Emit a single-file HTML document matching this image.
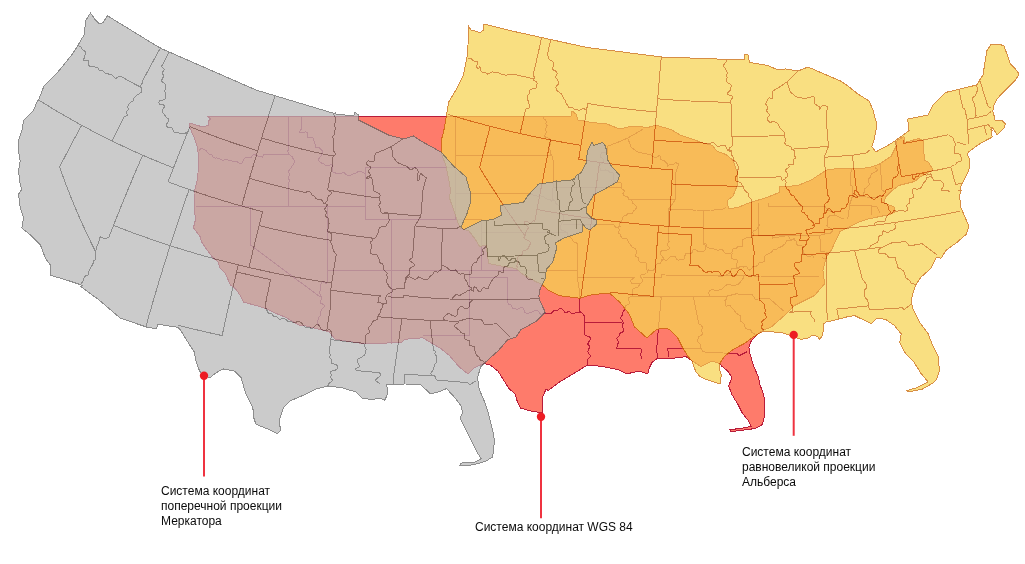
<!DOCTYPE html>
<html><head><meta charset="utf-8">
<style>
html,body{margin:0;padding:0;background:#fff;}
body{width:1025px;height:564px;overflow:hidden;position:relative;font-family:"Liberation Sans",sans-serif;}
svg{position:absolute;left:0;top:0;}
.t{position:absolute;will-change:transform;font-size:12px;line-height:15px;color:#0a0a0a;white-space:nowrap;}
</style></head><body>
<svg width="1025" height="564" viewBox="0 0 1025 564">

<path d="M207.3 116.2 L446.0 116.0 L571.0 116.0 L572.0 111.0 L576.0 114.0 L578.0 120.0 L592.0 122.5 L607.0 124.0 L619.5 129.0 L632.0 126.0 L648.0 127.5 L656.0 125.0 L672.0 130.0 L680.0 135.0 L693.8 139.6 L703.0 143.0 L712.3 145.3 L716.9 151.1 L726.1 154.6 L733.0 160.3 L737.6 173.0 L737.6 184.5 L733.0 196.0 L727.2 200.6 L728.4 208.7 L737.6 207.6 L749.1 202.9 L767.6 197.2 L779.1 192.6 L779.1 186.8 L797.5 185.7 L811.3 179.9 L827.5 169.5 L841.3 168.4 L860.0 168.9 L871.7 166.9 L879.5 164.0 L891.2 156.2 L896.1 146.4 L897.0 140.6 L903.9 136.7 L904.8 142.5 L918.5 138.6 L923.4 140.6 L924.3 160.1 L928.2 162.0 L933.1 169.8 L926.3 173.7 L920.4 176.7 L914.6 181.5 L899.0 185.4 L891.2 191.3 L885.3 197.1 L884.4 203.0 L894.1 206.9 L895.1 211.7 L889.2 214.7 L879.5 216.6 L869.7 218.6 L860.0 221.5 L840.0 231.6 L831.4 250.0 L826.3 256.7 L822.9 270.2 L824.6 283.7 L814.5 295.5 L794.3 305.6 L789.3 310.6 L784.2 315.7 L770.7 327.5 L763.0 330.0 L756.8 335.0 L751.1 341.3 L748.9 347.7 L750.0 354.0 L753.2 364.7 L758.5 377.4 L759.6 383.8 L762.8 392.3 L764.9 400.9 L764.9 411.5 L763.8 420.0 L761.7 425.3 L755.3 428.5 L742.6 430.2 L730.9 431.7 L729.8 429.6 L740.4 428.5 L751.1 426.4 L747.9 420.0 L742.6 413.6 L738.3 405.1 L731.9 394.5 L728.7 386.0 L731.9 377.4 L727.7 371.1 L721.3 365.7 L719.6 363.5 L712.2 361.0 L701.0 366.6 L692.3 361.0 L686.1 356.7 L674.9 358.0 L656.8 358.9 L652.2 362.0 L649.2 368.0 L647.7 374.0 L638.7 371.0 L626.6 374.0 L617.6 369.5 L602.5 366.5 L587.4 365.0 L575.4 372.5 L560.3 381.5 L548.2 390.6 L546.1 389.0 L542.1 398.6 L542.9 412.9 L531.8 411.3 L520.6 408.1 L517.4 401.8 L515.0 393.8 L509.4 389.0 L503.1 379.4 L498.3 371.5 L490.3 365.1 L483.9 363.5 L473.9 368.0 L467.9 374.0 L458.8 366.5 L449.8 355.9 L440.7 348.4 L422.7 337.8 L404.6 339.3 L401.5 342.4 L365.4 343.9 L335.2 339.3 L329.2 331.8 L317.1 328.8 L305.1 325.8 L300.0 325.8 L285.0 317.0 L274.4 312.8 L265.9 308.5 L255.2 305.3 L243.5 302.1 L240.3 295.7 L236.1 289.4 L230.7 285.1 L227.6 278.7 L225.4 273.4 L220.1 268.1 L218.0 261.7 L212.7 257.4 L206.3 248.9 L202.0 242.6 L199.9 236.2 L193.5 227.7 L195.6 219.1 L194.6 212.8 L194.0 193.5 L197.5 178.5 L199.0 161.0 L197.5 147.9 L194.8 139.0 L191.3 131.0 L189.1 125.7 L189.5 123.1 L200.2 126.2 L205.5 126.2 L209.0 124.8 L208.1 121.3 L210.8 119.1 Z" fill="#fe7b6b"/>
<g fill="none" stroke="#b81c3a" stroke-width="1" shape-rendering="crispEdges" stroke-linejoin="round"><path d="M198.8 151.6 L200.3 148.9 L201.6 148.7 L202.8 148.8 L203.9 149.3 L205.1 149.9 L206.2 150.9 L207.3 152.2 L208.3 153.6 L209.3 154.5 L210.5 154.8 L211.3 154.6 L211.8 154.9 L212.3 155.8 L213.0 156.9 L214.2 157.6 L215.5 158.1 L216.1 157.8 L216.9 158.0 L218.1 158.3 L219.2 158.6 L220.3 159.1 L221.5 159.7 L222.8 160.2 L224.0 160.1 L225.2 159.6 L226.3 159.3 L227.6 159.7 L228.9 160.3 L230.1 160.4 L231.2 160.5 L232.2 161.2 L233.3 161.7 L234.6 161.4 L235.8 161.0 L237.0 161.5 L238.4 162.8 L240.1 163.8 L241.5 163.6 L242.5 162.1 L243.4 160.0 L244.4 158.4 L245.5 157.8 L246.7 157.7 L247.9 157.6 L249.2 157.7 L250.4 157.7 L251.5 156.9 L252.4 155.6 L253.4 154.7 L254.7 154.7 L256.1 155.2 L257.5 155.9 L258.7 156.1 L260.0 156.2 L261.2 156.7 L262.6 157.4 L263.4 154.8"/><path d="M263.4 154.8 L266.8 154.8 L270.1 154.8 L273.4 154.8 L276.7 154.8 L280.0 154.8 L283.3 154.8 L286.7 154.8 L290.0 154.8"/><path d="M290.0 154.8 L288.4 153.8 L288.1 152.4 L287.8 151.0 L288.4 149.4"/><path d="M288.4 149.4 L288.4 146.1 L288.4 142.8 L288.4 139.4 L288.4 136.1 L288.4 132.8 L288.4 129.5 L288.4 126.1 L288.4 122.8 L288.4 119.5 L288.4 116.2"/><path d="M290.0 154.8 L290.9 155.7 L291.8 156.4 L292.7 157.4 L293.2 158.8 L292.9 159.2 L292.8 158.3 L293.7 159.7 L294.4 161.3 L294.2 162.6 L293.6 163.7 L293.2 164.8 L292.5 165.8 L291.7 166.6 L291.1 167.5 L290.5 168.6 L289.8 169.6 L289.0 170.4 L288.8 171.7 L289.0 173.4 L289.2 174.9 L289.2 175.8 L289.1 175.3 L289.0 175.7 L288.9 177.2 L288.8 178.7 L289.1 179.9 L289.6 180.9 L289.1 182.1 L288.6 183.2"/><path d="M288.6 183.2 L288.6 186.5 L288.6 189.8 L288.6 193.1 L288.6 196.4 L288.6 199.7 L288.6 203.0 L288.6 206.3"/><path d="M196.1 206.3 L199.5 206.3 L202.9 206.3 L206.2 206.3 L209.6 206.3 L213.0 206.3 L216.4 206.3 L219.8 206.3 L223.2 206.3 L226.6 206.3 L230.0 206.3 L233.4 206.3 L236.7 206.3 L240.1 206.3 L243.5 206.3 L246.9 206.3 L250.3 206.3 L253.8 206.3 L257.3 206.3 L260.7 206.3 L264.2 206.3 L267.7 206.3 L271.2 206.3 L274.6 206.3 L278.1 206.3 L281.6 206.3 L285.1 206.3 L288.6 206.3 L292.1 206.3 L295.6 206.3 L299.1 206.3 L302.6 206.3 L306.1 206.3 L309.6 206.3 L313.1 206.3 L316.6 206.3 L320.1 206.3 L323.6 206.3 L327.1 206.3 L330.6 206.3 L334.1 206.3 L337.6 206.3 L341.1 206.3 L344.6 206.3 L348.1 206.3 L351.6 206.3 L355.1 206.3 L358.6 206.3 L362.1 206.3 L365.6 206.3"/><path d="M250.3 206.3 L250.3 209.6 L250.3 212.8 L250.3 216.0 L250.3 219.2 L250.3 222.4 L250.3 225.7 L250.3 228.9 L250.3 232.1 L250.3 235.3 L250.3 238.5 L250.3 241.8 L250.3 245.0 L253.6 247.4 L256.9 249.9 L260.2 252.3 L263.5 254.8 L266.8 257.2 L270.1 259.7 L273.4 262.2 L276.6 264.6 L279.9 267.1 L283.2 269.5 L286.5 272.0 L289.8 274.4 L293.1 276.9 L296.4 279.3 L299.7 281.8 L303.0 284.2 L306.3 286.7 L309.6 289.1 L312.9 291.6 L316.2 294.0 L319.5 296.5"/><path d="M319.5 296.5 L321.7 296.8 L321.8 298.2 L321.2 299.7 L320.5 301.5 L320.2 302.8 L321.4 303.4 L323.4 304.5 L324.5 305.9 L323.8 307.1 L322.7 308.3 L321.8 309.4 L321.2 310.5 L320.7 311.6 L320.3 312.8 L320.4 314.1 L320.2 315.4 L319.5 316.4 L318.8 317.3 L318.7 318.5 L318.2 319.7 L317.4 320.9 L317.2 322.2 L317.8 323.4 L318.7 324.6 L318.3 325.9"/><path d="M319.5 296.5 L320.7 295.2 L320.1 294.0 L319.6 292.8 L319.6 291.6 L320.2 290.3 L320.7 288.9 L320.6 287.6 L320.2 286.3 L320.2 285.1 L320.6 284.4 L320.3 285.7 L320.4 285.3 L321.2 283.6 L322.1 282.0 L323.3 281.9 L324.6 282.9 L325.8 284.0 L327.1 282.3"/><path d="M327.1 282.3 L327.1 278.5 L327.1 274.6 L327.1 270.7 L327.1 267.5 L327.1 264.3 L327.1 261.1 L327.1 257.9 L327.1 254.6 L327.1 251.4 L327.1 248.2 L327.1 245.0 L327.1 241.8 L327.1 238.5 L327.1 235.3 L327.1 232.1 L327.1 228.9 L327.1 225.7 L327.1 222.4 L327.1 219.2 L327.1 216.0 L327.1 212.8 L327.1 209.6 L327.1 206.3"/><path d="M365.6 206.3 L365.6 203.1 L365.6 199.9 L365.6 196.7 L365.6 193.5 L365.6 190.2 L365.6 187.0 L365.6 183.8 L365.6 180.6 L365.6 177.4 L365.6 174.1 L365.6 170.9 L365.6 167.7 L368.8 167.7 L372.0 167.7 L375.2 167.7 L378.5 167.7 L381.7 167.7 L384.9 167.7 L388.1 167.7 L391.3 167.7 L394.6 167.7 L397.8 167.7 L401.0 167.7 L404.2 167.7 L407.4 167.7 L410.7 167.7 L413.9 167.7 L417.1 167.7 L420.3 167.7 L423.5 167.7 L426.8 167.7 L430.0 167.7 L433.2 167.7 L436.4 167.7 L439.6 167.7 L442.9 167.7 L446.1 167.7 L449.3 167.7 L452.5 167.7 L455.7 167.7"/><path d="M365.6 174.1 L364.4 173.0 L363.3 172.8 L362.1 172.2 L360.9 171.6 L359.7 171.3 L358.5 171.5 L357.3 172.2 L355.9 173.1 L354.8 173.8 L353.6 173.9 L352.4 174.2 L351.3 174.9 L350.2 175.5 L348.9 175.6 L347.6 175.3 L346.4 174.8 L345.2 173.7 L344.1 172.7 L343.5 172.7 L342.4 173.0 L340.8 173.3 L339.3 173.6 L337.8 173.8 L336.5 173.5 L335.3 172.9 L334.0 172.5 L333.0 172.0 L332.4 170.7 L332.3 168.8 L332.3 166.7 L332.0 165.1 L330.8 164.7 L328.9 165.2 L327.0 165.7 L325.6 165.5 L324.8 164.6 L323.9 163.8 L322.9 163.4 L322.0 163.2 L321.1 162.8 L319.2 161.6 L318.7 159.1 L319.6 157.7 L320.5 156.7 L321.2 155.6 L321.7 154.5 L322.0 153.2 L322.3 151.9 L322.1 150.7 L321.3 149.6 L320.2 148.7 L319.1 147.8 L318.1 147.5 L317.0 147.5 L315.7 147.1 L315.0 146.0 L315.0 144.4 L314.7 142.8 L314.2 141.5 L313.8 140.1 L313.5 138.5 L312.8 137.3 L311.4 137.2 L309.5 137.8 L308.0 137.8 L307.2 136.7 L307.0 135.2 L307.1 133.6 L307.2 132.4 L305.8 131.9 L303.4 132.2 L300.9 132.5 L299.3 132.2 L301.2 129.3"/><path d="M301.2 129.3 L301.2 126.0 L301.2 122.7 L301.2 119.5 L301.2 116.2"/><path d="M455.7 116.2 L455.7 119.5 L455.7 122.7 L455.7 126.0 L455.7 129.3 L455.7 132.6 L455.7 135.9 L455.7 139.2 L455.7 142.5 L455.7 145.7 L455.7 149.0 L455.7 152.3 L455.7 155.6 L455.7 159.6 L455.7 163.7 L455.7 167.7 L455.7 170.9 L455.7 174.1 L455.7 177.4 L455.7 180.6 L455.7 183.8 L455.7 187.0 L455.7 190.2 L455.7 193.5 L455.7 196.7 L455.7 199.9 L455.7 203.1 L455.7 206.3 L455.7 209.6 L455.7 212.8 L455.7 216.0 L455.7 219.2"/><path d="M365.6 206.3 L365.6 209.6 L365.6 212.8 L365.6 216.0 L365.6 219.2 L368.8 219.2 L372.0 219.2 L375.2 219.2 L378.5 219.2 L381.7 219.2 L384.9 219.2 L388.1 219.2 L391.3 219.2 L394.6 219.2 L397.8 219.2 L401.0 219.2 L404.2 219.2 L407.4 219.2 L410.7 219.2 L413.9 219.2 L417.1 219.2 L420.3 219.2 L423.5 219.2 L426.8 219.2 L430.0 219.2 L433.2 219.2 L436.4 219.2 L439.6 219.2 L442.9 219.2 L446.1 219.2 L449.3 219.2 L452.5 219.2 L455.7 219.2 L459.0 219.2 L462.2 219.2 L465.4 219.2 L468.6 219.2 L471.8 219.2 L475.1 219.2 L478.3 219.2 L481.5 219.2 L481.5 222.4 L481.5 225.7 L481.5 228.9 L481.5 232.1 L481.5 235.3 L481.5 238.5 L481.5 241.8 L481.5 245.0 L481.5 248.2 L481.5 251.4 L481.5 254.6 L481.5 257.9 L481.5 261.1 L481.5 264.3 L481.5 267.5 L481.5 270.7"/><path d="M391.3 219.2 L391.3 222.4 L391.3 225.7 L391.3 228.9 L391.3 232.1 L391.3 235.3 L391.3 238.5 L391.3 241.8 L391.3 245.0 L391.3 248.2 L391.3 251.4 L391.3 254.6 L391.3 257.9 L391.3 261.1 L391.3 264.3 L391.3 267.5 L391.3 270.7 L391.3 274.1 L391.3 277.4 L391.3 280.7 L391.3 284.0 L391.3 287.3 L391.3 290.7 L391.3 294.0 L391.3 297.3 L391.3 300.6 L391.3 303.9 L391.3 307.3 L391.3 310.6 L391.3 313.9 L391.3 317.2 L391.3 320.5 L391.3 323.9 L391.3 327.2 L391.3 330.5 L391.3 333.8 L391.3 337.1 L391.3 340.5 L391.3 343.8"/><path d="M327.1 270.7 L330.4 270.7 L333.8 270.7 L337.2 270.7 L340.6 270.7 L344.0 270.7 L347.4 270.7 L350.7 270.7 L354.1 270.7 L357.5 270.7 L360.9 270.7 L364.3 270.7 L367.7 270.7 L371.0 270.7 L374.4 270.7 L377.8 270.7 L381.2 270.7 L384.6 270.7 L388.0 270.7 L391.3 270.7 L394.6 270.7 L397.8 270.7 L401.1 270.7 L404.3 270.7 L407.6 270.7 L410.8 270.7 L414.1 270.7 L417.3 270.7 L420.6 270.7 L423.8 270.7 L427.1 270.7 L430.3 270.7 L433.5 270.7 L436.8 270.7 L440.0 270.7 L443.3 270.7 L446.5 270.7 L449.8 270.7 L453.0 270.7 L456.3 270.7 L459.5 270.7 L462.8 270.7 L466.0 270.7 L469.3 270.7 L473.3 270.7 L477.4 270.7 L481.5 270.7 L484.8 270.7 L488.1 270.7 L491.4 270.7 L494.7 270.7 L498.0 270.7 L501.3 270.7 L504.6 270.7 L507.9 270.7 L511.2 270.7 L514.5 270.7 L517.8 270.7 L521.1 270.7 L524.4 270.7 L527.7 270.7 L531.0 270.7 L534.3 270.7 L537.6 270.7 L540.9 270.7 L544.2 270.7 L547.5 270.7 L550.8 270.7 L554.1 270.7 L557.4 270.7 L560.7 270.7 L564.0 270.7 L567.3 270.7 L570.6 270.7 L573.9 270.7 L577.2 270.7"/><path d="M469.3 270.7 L469.3 274.0 L469.3 277.2 L469.3 280.4 L469.3 283.6 L469.3 286.8 L469.3 290.1 L469.3 293.3 L469.3 296.5 L469.3 299.7 L469.3 302.9 L469.3 306.2 L469.3 309.4 L469.3 312.6 L469.3 315.8 L469.3 319.0 L469.3 322.3 L469.3 325.5 L469.3 328.7 L469.3 331.9 L469.3 335.1 L465.9 335.1 L462.6 335.1 L459.3 335.1 L455.9 335.1 L452.6 335.1 L449.3 335.1 L445.9 335.1 L442.6 335.1 L439.3 335.1 L436.0 335.1 L432.6 335.1 L429.3 335.1 L426.0 335.1 L422.6 335.1"/><path d="M469.3 277.2 L472.5 277.2 L475.7 277.2 L478.9 277.2 L482.1 277.2 L485.4 277.2 L488.6 277.2 L491.8 277.2 L495.0 277.2 L498.2 277.2 L501.5 277.2 L504.7 277.2 L507.9 277.2 L507.9 280.7 L507.9 284.3 L507.9 287.9 L507.9 291.5 L507.9 295.0 L507.9 298.6 L507.9 302.2"/><path d="M507.9 302.2 L508.4 304.2 L509.6 304.4 L510.8 304.6 L511.6 305.6 L512.0 307.1 L512.6 308.2 L513.7 308.6 L515.0 308.8 L516.4 309.1 L517.9 309.1 L519.6 308.4 L521.2 307.3 L522.6 307.1 L523.4 308.3 L524.0 310.3 L524.8 312.2 L526.1 313.2 L527.4 313.2 L528.6 313.0 L529.9 312.9 L531.1 312.4 L532.5 311.7 L533.8 311.1 L535.0 310.9 L536.3 310.8 L537.5 310.7 L538.6 311.5 L539.6 313.0 L540.6 314.2 L541.9 314.1 L543.2 313.4 L544.5 313.0 L545.8 313.1 L547.1 313.3 L548.3 313.4 L549.6 313.7 L550.8 313.8 L551.6 312.9 L552.8 311.6 L554.2 310.4 L555.5 310.1 L556.7 310.2 L557.8 310.3 L558.5 309.7 L559.4 308.8 L560.5 308.4 L561.8 308.9 L563.3 310.4 L564.7 312.2 L566.1 313.0 L567.0 312.3 L568.2 311.5 L569.4 311.6 L570.4 312.6 L571.4 313.6 L572.6 313.9 L574.0 313.3 L575.4 312.7 L576.6 312.5 L577.9 312.5 L579.2 312.2 L580.4 312.0 L581.5 312.5 L582.6 313.4 L583.5 315.0 L584.7 315.2"/><path d="M577.2 270.7 L577.2 274.0 L577.2 277.2 L577.8 280.7 L578.4 284.3 L579.0 287.8 L579.6 291.3 L579.5 294.6 L579.5 297.8 L579.4 301.1 L579.3 304.3 L579.2 307.5 L579.1 310.8 L579.0 314.0"/><path d="M584.7 315.2 L584.7 318.7 L584.7 322.3 L584.7 325.5 L584.7 328.7 L584.7 331.9 L584.7 335.1"/><path d="M584.7 335.1 L586.3 335.6 L587.7 336.2 L589.1 336.8 L590.3 337.6 L590.5 338.8 L589.5 340.8 L588.1 342.9 L587.9 344.3 L588.8 345.2 L589.5 346.3 L589.5 347.4 L589.3 348.2 L588.7 348.9 L588.2 350.0 L587.9 351.2 L588.2 352.6 L589.3 354.1 L590.2 355.4 L590.2 356.6 L589.2 357.8 L587.9 358.9 L587.1 360.0 L587.1 360.9 L587.2 362.1 L587.3 363.5 L587.2 364.8"/><path d="M481.5 232.1 L484.8 232.1 L488.2 232.1 L491.5 232.1 L494.9 232.1 L498.2 232.1 L501.5 232.1 L504.9 232.1 L508.2 232.1 L511.5 232.1 L514.9 232.1 L518.2 232.1 L521.6 232.1 L524.9 232.1 L528.2 232.1 L531.6 232.1 L534.9 232.1 L538.3 232.1 L541.6 232.1 L544.9 232.1 L548.3 232.1 L551.6 232.1 L555.0 232.1 L558.3 232.1 L561.6 232.1 L565.0 232.1 L568.3 232.1"/><path d="M455.7 155.6 L459.1 155.6 L462.4 155.6 L465.7 155.6 L469.0 155.6 L472.4 155.6 L475.7 155.6 L479.0 155.6 L482.3 155.6 L485.7 155.6 L489.0 155.6 L492.3 155.6 L495.7 155.6 L499.0 155.6 L502.3 155.6 L505.6 155.6 L509.0 155.6 L512.3 155.6 L515.6 155.6 L518.9 155.6 L522.3 155.6 L525.6 155.6 L528.9 155.6 L532.2 155.6 L535.6 155.6 L538.9 155.6 L542.2 155.6 L545.6 155.6 L548.9 155.6 L552.2 155.6"/><path d="M552.2 155.6 L551.1 154.7 L550.2 153.7 L550.5 152.3 L550.6 150.9 L549.9 149.9 L549.2 148.8 L548.8 147.6 L549.0 146.3 L549.8 145.0 L550.6 143.7 L550.8 142.4 L550.7 141.2 L550.5 139.9 L549.4 138.7 L547.5 137.9 L545.8 137.2 L544.7 136.3 L544.8 135.0 L546.0 133.2 L546.6 131.7 L545.9 130.7 L545.1 129.6 L545.7 128.3 L546.8 127.0 L547.1 125.8 L546.3 124.6 L545.9 123.4 L546.1 122.1 L546.1 120.8 L545.1 119.7 L543.8 118.6 L543.3 117.5 L543.6 116.2"/><path d="M455.7 193.5 L459.0 193.5 L462.2 193.5 L465.5 193.5 L468.7 193.5 L472.0 193.5 L475.2 193.5 L478.5 193.5 L481.7 193.5 L485.0 193.5 L488.2 193.5 L491.5 193.5 L494.7 193.5 L498.0 193.5 L501.2 193.5 L504.5 193.5 L507.7 193.5 L511.0 193.5 L514.2 193.5 L517.5 193.5 L520.7 193.5 L524.0 193.5 L527.2 193.5"/><path d="M527.2 193.5 L528.4 194.0 L529.7 193.9 L530.9 194.1 L532.1 194.6 L533.2 195.3 L534.4 195.8 L535.7 195.9 L536.9 196.0 L538.2 196.1 L539.4 196.0 L540.7 195.9 L541.9 196.2 L543.1 196.6 L544.1 197.1 L545.0 198.0 L546.1 198.8 L547.3 199.1 L548.6 199.3 L549.8 199.5 L550.8 200.3 L551.6 201.4 L553.6 200.0"/><path d="M552.2 155.6 L552.9 159.7 L553.6 163.8 L553.6 167.1 L553.6 170.5 L553.6 173.8 L553.6 177.1 L553.6 180.4 L553.6 183.7 L553.6 187.0"/><path d="M553.6 187.0 L552.8 188.3 L552.4 189.5 L552.6 190.9 L552.7 192.2 L552.6 193.5 L552.7 194.9 L552.6 196.2 L552.3 197.5 L552.3 198.8 L553.6 200.0"/><path d="M553.6 200.0 L554.7 200.8 L555.4 201.8 L555.7 203.0 L556.4 204.1 L557.6 204.8 L558.6 205.6 L559.3 206.5 L559.6 207.8 L559.8 209.0 L560.2 210.3 L560.4 211.5 L560.9 212.7 L561.8 213.9 L563.1 215.1 L563.8 216.2 L563.8 217.4 L563.7 218.5 L563.7 219.5 L563.3 220.7 L562.7 222.2 L561.8 223.6 L560.9 225.5 L560.8 227.6 L560.7 229.2 L561.4 230.2 L562.9 230.6 L564.3 231.0 L565.6 231.6 L566.7 232.2 L567.2 233.2 L567.3 234.4 L568.1 235.4 L569.4 236.0 L570.4 236.9 L571.1 237.9 L571.9 238.9 L572.6 240.0 L573.2 241.1 L574.0 242.0 L575.2 242.5 L576.5 242.9 L577.5 243.7"/><path d="M577.5 243.7 L577.4 247.1 L577.4 250.5 L577.4 253.8 L577.3 257.2 L577.3 260.6 L577.3 264.0 L577.2 267.4 L577.2 270.7"/><path d="M553.6 187.0 L557.0 187.0 L560.4 187.0 L563.7 187.0 L567.1 187.0 L570.5 187.0 L573.8 187.0 L577.2 187.0 L580.6 187.0 L583.9 187.0 L587.3 187.0 L590.7 187.0 L594.0 187.0 L597.4 187.0 L600.8 187.0 L604.1 187.0 L607.5 187.0 L610.9 187.0 L614.3 187.0 L617.6 187.0 L621.0 187.0"/><path d="M621.0 187.0 L621.5 185.7 L621.2 184.5 L621.1 183.1 L620.0 182.2 L618.4 182.3 L616.7 182.5 L615.5 182.0 L614.7 181.1 L613.9 180.1 L613.5 178.7 L613.7 176.5 L613.9 174.3 L613.4 173.0 L612.0 172.8 L610.6 172.6 L609.5 172.0 L608.4 170.8 L606.9 170.1 L605.6 170.0 L604.3 170.3 L602.9 170.6 L601.6 170.9 L600.6 170.6 L600.6 169.3 L600.2 168.1 L599.6 166.8 L599.5 165.6 L600.5 164.5 L602.2 163.5 L603.5 162.0 L603.5 160.4 L603.1 159.2 L602.5 158.1 L601.5 157.9 L600.7 157.0 L600.9 154.9 L601.3 153.0 L602.2 152.1 L603.6 152.3 L605.3 152.9 L607.1 153.5"/><path d="M607.1 153.5 L607.1 150.0 L607.1 146.4 L610.9 144.9 L614.8 143.4 L618.7 141.9 L623.2 140.0 L627.7 138.1 L631.5 135.8 L635.4 133.6 L639.3 131.3 L643.1 129.1"/><path d="M621.0 187.0 L621.3 188.2 L622.6 189.3 L624.0 190.3 L624.5 191.5 L623.6 192.4 L622.9 193.7 L623.3 194.9 L624.2 195.7 L625.5 196.2 L626.8 196.6 L627.9 197.2 L628.6 198.2 L629.3 199.1 L630.3 199.5 L631.4 200.1 L632.1 201.3 L632.5 202.9 L633.2 203.8 L634.3 204.3 L635.7 205.6 L636.5 206.8 L636.1 208.3 L635.0 209.9 L633.7 210.9 L633.0 212.1 L632.3 213.1 L631.0 213.5 L629.4 213.6 L627.9 213.7 L626.9 214.5 L625.9 215.5 L625.3 215.5 L624.9 215.3 L623.9 216.1 L623.1 217.2 L622.5 218.3 L622.1 219.5 L621.9 220.5 L621.2 221.5 L620.3 222.3 L619.5 223.3 L619.6 224.8 L620.3 226.7 L618.4 226.9"/><path d="M562.5 224.6 L565.8 224.6 L569.0 224.6 L572.2 224.6 L575.5 224.6 L578.7 224.6 L582.0 224.6 L585.2 224.6 L588.5 224.6 L591.7 224.6 L595.0 224.6 L598.2 224.6 L601.4 224.6 L604.7 224.6 L607.9 224.6 L611.2 224.6 L614.4 224.6"/><path d="M614.4 224.6 L615.0 226.7 L616.2 227.7 L618.4 226.9"/><path d="M618.4 226.9 L618.5 228.2 L619.3 229.4 L619.2 230.6 L618.6 231.8 L618.4 232.9 L619.3 233.5 L620.1 234.2 L620.6 235.3 L621.0 236.6 L621.6 237.7 L622.6 238.5 L624.1 238.7 L625.9 238.6 L627.2 238.9 L627.8 240.0 L628.1 241.4 L628.6 242.7 L629.4 243.6 L630.2 244.4 L630.9 245.5 L631.6 246.5 L632.6 247.2 L633.7 247.8 L634.9 248.5 L635.9 249.8 L636.3 251.2 L636.5 252.4 L636.0 253.8 L635.3 255.3 L635.6 256.5 L637.1 257.1 L638.4 257.3 L638.8 258.4 L638.8 260.3 L639.3 261.7 L640.4 262.2 L641.9 262.3 L643.7 262.2 L645.4 262.7 L646.4 263.6 L646.5 265.0 L646.4 266.4 L646.4 267.8 L646.6 269.1 L647.1 270.1 L647.6 271.2 L647.3 272.5 L646.5 273.5 L645.2 274.0 L643.2 274.1 L641.4 274.3 L640.4 275.4 L640.9 277.4 L642.1 279.2 L642.7 280.7 L642.3 281.8 L641.1 282.7 L640.2 283.6 L639.5 284.6 L638.9 285.6 L638.2 286.6 L637.2 287.4 L635.6 287.8 L634.1 288.3 L633.1 289.1 L632.7 290.3 L632.7 291.7 L632.6 293.1 L632.7 294.5 L632.6 295.9 L631.7 296.7 L629.9 297.1 L628.6 297.7 L628.4 299.0 L629.0 300.7 L629.5 302.4 L629.2 303.7 L628.1 304.4 L626.8 305.1 L625.7 305.8 L625.1 306.9 L625.2 308.3 L625.0 309.6 L624.1 310.6 L623.1 311.4 L622.6 312.6 L622.6 313.8 L622.3 315.0 L621.5 316.2 L620.7 317.3 L620.7 318.5 L621.7 319.9 L622.8 321.3 L623.1 322.2 L623.1 323.1 L622.8 324.5 L622.5 325.9 L622.6 327.1 L623.3 328.1 L623.8 329.2 L623.6 330.5 L623.1 331.7 L622.0 332.4 L620.5 332.9 L619.5 333.8 L619.2 335.1 L618.9 336.3 L617.9 337.2 L616.9 338.1 L617.1 339.4 L618.0 341.1 L618.4 342.4 L618.0 343.5 L617.6 344.6 L617.4 345.8 L617.0 347.0 L616.1 348.0"/><path d="M616.1 348.0 L619.5 348.0 L623.0 348.0 L626.4 348.0 L629.9 348.0 L633.3 348.0 L636.7 348.0 L640.2 348.0"/><path d="M640.2 348.0 L641.2 349.3 L641.2 350.7 L641.1 352.0 L641.0 353.3 L640.9 354.7 L641.0 356.0 L641.4 357.3 L641.9 358.6"/><path d="M640.6 283.6 L636.2 283.6 L631.9 283.6"/><path d="M631.9 283.6 L630.5 281.4 L631.0 280.1 L632.4 279.2 L633.6 278.2 L634.8 277.2"/><path d="M634.8 277.2 L631.4 277.2 L628.0 277.2 L624.6 277.2 L621.2 277.2 L617.8 277.2 L614.4 277.2 L611.1 277.2 L607.7 277.2 L604.3 277.2 L600.9 277.2 L597.5 277.2 L594.1 277.2 L590.7 277.2 L587.4 277.2 L584.0 277.2 L580.6 277.2 L577.2 277.2"/><path d="M584.7 322.3 L588.0 322.3 L591.4 322.3 L594.7 322.3 L598.1 322.3 L601.5 322.3 L604.8 322.3 L608.2 322.3 L611.5 322.3 L614.9 322.3 L618.3 322.3 L621.6 322.3"/><path d="M632.8 296.5 L636.2 296.5 L639.6 296.5 L643.0 296.5 L646.4 296.5 L649.7 296.5 L653.1 296.5 L656.5 296.5 L659.9 296.5 L663.2 296.5 L666.6 296.5 L669.9 296.5 L673.3 296.5 L676.6 296.5 L680.0 296.5 L683.3 296.5 L686.7 296.5 L690.0 296.5 L693.4 296.5 L696.7 296.5 L700.1 296.5 L703.4 296.5 L706.8 296.5 L710.1 296.5 L714.0 296.5 L717.8 296.5 L721.7 296.5 L725.6 296.5"/><path d="M659.9 296.5 L661.2 297.8 L660.9 301.1 L660.6 304.5 L660.3 307.8 L660.0 311.2 L659.7 314.5 L659.4 317.9 L659.1 321.2 L658.8 324.6 L658.5 327.9 L658.2 331.3 L657.9 334.6 L657.6 338.0 L657.3 341.3 L657.0 344.7 L656.7 348.0 L656.9 351.2 L657.1 354.5 L657.3 357.7"/><path d="M693.4 296.5 L694.0 300.0 L694.7 303.4 L695.4 306.9 L696.1 310.3 L696.8 313.8 L697.4 317.3 L698.1 320.7 L698.8 324.2"/><path d="M698.8 324.2 L700.6 324.8 L701.4 325.8 L702.4 326.7 L702.5 328.0 L701.6 329.7 L701.3 331.1 L702.1 332.3 L702.7 333.7 L701.9 334.8 L700.2 335.8 L698.9 336.8 L698.3 337.9 L697.9 339.1 L697.7 340.5 L698.1 342.1 L699.4 343.3 L700.5 344.4 L700.7 345.6 L700.4 346.9 L701.1 348.0"/><path d="M701.1 348.0 L697.8 348.0 L694.4 348.0 L691.1 348.0 L687.7 348.0 L684.4 348.0 L681.0 348.0 L677.7 348.0 L674.3 348.0 L671.0 348.0 L667.6 348.0 L668.3 352.7 L668.9 357.3"/><path d="M701.1 348.0 L702.9 351.9 L706.3 352.1 L709.7 352.3 L713.2 352.4 L716.6 352.6 L720.0 352.8 L723.4 353.0 L726.9 353.2 L730.3 353.4 L733.7 353.6 L737.2 353.8 L739.1 355.7 L743.0 353.8 L746.8 351.9"/><path d="M725.6 296.5 L726.8 298.8 L725.9 299.7 L724.8 300.2 L724.8 300.0 L725.4 299.9 L725.6 301.5 L725.3 303.8 L725.2 305.7 L726.4 306.2 L728.4 305.8 L730.1 305.7 L730.9 306.6 L731.6 307.7 L732.5 308.5 L733.6 309.2 L734.3 310.2 L734.8 311.4 L735.6 312.4 L736.5 313.2 L737.4 314.1 L738.3 314.9 L739.6 315.3 L740.7 316.1 L740.8 317.5 L740.4 319.3 L740.3 320.8 L741.2 321.7 L742.4 322.4 L743.3 323.3 L744.0 324.3 L744.6 325.4 L744.9 326.6 L745.3 327.9 L746.3 328.7 L747.8 329.2 L749.5 329.4 L750.7 329.9 L751.4 331.0 L751.8 332.2 L752.9 333.0 L754.3 333.3 L754.6 334.8"/><path d="M643.1 277.2 L646.9 277.2 L650.6 277.2 L654.3 277.2 L658.1 277.2 L661.8 277.2 L661.8 274.9 L665.1 275.0 L668.4 275.1 L671.7 275.2 L675.0 275.2 L678.3 275.3 L681.6 275.4 L684.9 275.5 L688.2 275.6 L691.5 275.7 L694.9 275.7 L698.2 275.7 L701.5 275.7 L704.8 275.8 L708.1 275.8 L711.5 275.8 L714.8 275.9 L718.1 275.9 L721.4 275.9 L724.6 275.9 L727.9 275.9 L731.2 275.9 L734.4 275.9 L737.7 275.9 L741.0 275.9 L744.2 275.9 L747.5 275.9 L750.7 275.9 L754.0 276.0 L757.2 276.0 L760.4 276.0 L763.7 276.1 L766.9 276.1 L770.1 276.1 L773.4 276.1 L776.6 276.2 L779.9 276.2 L783.1 276.2 L786.3 276.3 L789.6 276.3 L792.8 276.3 L796.0 276.3 L799.3 276.4 L802.5 276.4 L805.7 276.4 L809.0 276.5 L812.2 276.5 L815.5 276.5 L818.7 276.5"/><path d="M744.2 275.9 L743.3 276.8 L743.2 278.2 L742.7 279.3 L741.8 280.1 L740.9 281.0 L740.3 282.2 L739.3 283.3 L738.2 284.2 L737.0 284.7 L735.8 285.0 L734.6 285.3 L733.4 285.6 L732.2 285.6 L730.8 285.0 L729.4 284.3 L727.9 284.0 L726.8 284.7 L725.8 285.5 L724.8 286.2 L723.9 287.2 L723.1 288.2 L722.1 289.0 L720.9 289.3 L719.6 289.5 L718.6 290.2 L717.6 290.9 L716.2 290.8 L714.6 290.1 L713.0 289.6 L711.0 289.9 L709.3 291.3 L708.8 292.7 L709.0 294.3 L710.1 296.5"/><path d="M725.6 296.5 L729.0 295.6 L732.4 294.8 L735.9 293.9 L739.1 294.1 L742.3 294.2 L745.5 294.3 L748.8 294.4 L752.0 294.6 L753.5 296.5 L755.2 299.1 L758.8 299.0 L762.4 298.9 L766.0 298.9 L769.6 298.8 L773.3 301.9 L776.9 305.1 L780.5 308.2 L784.2 311.3"/><path d="M718.1 275.9 L720.0 276.9 L721.4 276.9 L722.4 276.2 L723.4 275.5 L724.7 275.2 L726.0 275.0 L727.0 274.3 L728.1 273.8 L729.1 273.4 L729.9 272.5 L730.6 270.8 L731.3 269.0 L732.3 268.0 L733.6 268.1 L735.1 268.6 L736.5 268.8 L737.8 268.7 L738.9 268.3 L739.7 266.9"/><path d="M739.7 266.9 L736.7 268.1 L736.1 266.9 L736.3 264.9 L737.0 262.6 L737.7 260.9 L737.0 260.0 L735.0 259.5 L733.0 259.1 L731.8 258.3 L731.5 256.9 L731.7 255.4 L732.1 254.0 L732.0 252.7"/><path d="M739.7 266.9 L741.2 266.9 L742.8 267.0 L744.1 267.2 L743.5 267.3 L743.8 266.8 L745.4 266.4 L746.7 266.7 L747.4 267.9 L748.0 269.2 L749.8 270.2 L751.5 268.8 L752.3 267.2 L753.4 266.5 L754.6 266.4 L755.8 266.3 L756.9 265.8 L757.9 265.1 L758.5 264.4 L758.7 263.4 L759.6 262.6 L761.2 262.2 L762.9 262.0 L764.1 261.4 L764.3 260.1 L764.3 258.4 L764.5 257.0 L765.1 255.9 L766.0 255.1 L767.0 254.4 L768.3 253.8 L769.6 253.4 L770.8 252.8 L771.4 252.1 L772.2 251.2 L773.0 250.2 L774.1 249.6 L775.4 249.5 L776.6 249.3 L777.6 248.5 L778.6 247.7 L779.7 247.2 L780.9 246.9 L782.0 246.4 L782.9 245.6 L783.9 244.8 L785.0 244.2 L785.7 243.0 L786.2 241.5 L787.0 240.5 L788.5 240.5 L790.1 240.9 L791.3 240.6 L792.3 239.9 L793.4 239.5 L793.9 240.1 L794.9 240.9"/><path d="M794.9 240.9 L796.4 241.1 L796.7 242.4 L796.9 244.2 L797.7 245.5 L799.0 245.9 L800.5 245.5 L801.7 245.7 L802.4 246.7 L802.1 247.4 L802.3 248.2 L802.9 249.3 L803.1 250.5 L803.1 251.8 L803.5 253.0 L804.3 254.0 L805.4 254.4 L806.3 255.4 L807.2 256.4 L808.3 256.9 L809.7 256.7 L811.3 256.0 L812.9 255.4 L813.2 257.9"/><path d="M822.2 257.9 L826.7 258.5"/><path d="M794.9 240.9 L794.7 238.7 L793.0 239.0 L791.3 239.5 L790.0 239.2 L789.4 237.7 L788.6 235.9 L787.1 235.1 L785.8 235.4 L784.5 236.3 L783.3 236.8 L782.0 236.7 L780.7 236.5 L779.4 236.8 L778.2 237.1 L776.9 237.3 L775.7 237.5 L774.4 237.7 L773.2 238.0 L772.2 239.2"/><path d="M772.2 239.2 L772.2 235.7 L768.8 235.7 L765.5 235.7 L762.2 235.7 L758.8 235.7 L758.8 231.8 L758.8 227.8 L758.8 223.9 L758.8 220.3 L758.8 216.7 L758.8 213.2 L758.8 209.6 L758.8 206.0 L758.8 202.5"/><path d="M758.8 223.9 L759.9 225.5 L758.7 226.4 L757.8 227.3 L757.4 228.5 L756.9 229.6 L755.7 230.4 L754.2 230.8 L753.3 230.9 L752.9 232.0 L753.1 233.9 L753.1 235.8 L752.6 237.0 L751.6 237.7 L750.2 237.9 L748.3 237.7 L746.6 237.6 L745.4 238.1 L744.3 238.8 L743.2 239.4 L742.4 240.4 L742.6 242.2 L743.0 244.3 L742.8 245.8 L741.7 246.4 L739.9 246.3 L738.2 246.3 L737.2 247.0 L736.7 248.2 L736.0 248.8 L734.8 248.6 L733.5 248.7 L732.6 249.6 L732.3 251.1 L731.6 252.7 L729.9 253.4 L728.6 253.6 L727.4 253.3 L726.2 253.1 L725.2 253.0 L724.4 252.7 L723.5 251.4 L722.5 249.7 L721.3 249.0 L720.0 249.6 L718.7 250.4 L717.5 250.3 L716.4 249.6 L715.2 249.1 L714.1 249.0 L712.9 248.8 L711.6 248.6 L710.4 248.3 L709.1 248.1 L707.9 247.8 L707.0 246.8 L706.6 245.0 L706.0 243.7 L704.6 243.7 L704.0 244.4 L705.1 244.9 L705.4 246.1 L705.6 247.7 L704.9 250.5 L702.9 251.8 L701.7 252.0 L700.4 251.7 L699.1 251.6 L697.8 251.3 L696.3 250.3 L694.4 249.5 L693.1 249.9 L692.6 251.2 L692.1 252.5 L691.2 253.3 L690.0 253.7 L688.7 253.8 L687.4 253.5 L686.1 253.6 L685.2 254.6 L684.8 256.4 L684.4 258.4 L683.4 259.6 L682.2 259.7 L680.9 259.3 L679.7 259.5 L678.6 260.1 L677.2 259.7 L676.0 257.9 L675.1 256.4 L673.9 256.0 L672.7 256.2 L671.5 256.4 L670.2 257.1 L668.8 258.1 L667.7 259.4 L666.6 260.2 L665.4 260.2 L664.0 259.6 L662.7 259.3 L661.2 260.0 L661.2 261.7 L660.8 262.8 L660.1 263.6 L659.0 263.5 L657.6 263.5 L656.5 264.1 L655.9 265.2 L655.8 266.4 L655.4 267.7 L654.5 269.1 L653.5 270.1 L652.4 270.5 L651.1 270.5 L649.8 270.1 L648.5 269.9 L647.6 270.7"/><path d="M772.2 235.7 L775.6 235.7 L779.0 235.7 L782.4 235.7 L785.8 235.7 L789.2 235.7 L792.6 235.7 L796.0 235.7 L799.4 235.7 L802.8 235.7 L806.1 235.7 L809.5 235.7 L812.9 235.7 L816.3 235.7 L819.7 235.7 L820.0 239.0 L820.2 242.2 L820.4 245.4 L820.7 248.7 L820.9 251.9 L825.1 252.0 L829.3 252.1"/><path d="M819.7 235.7 L822.2 234.2 L824.5 234.7"/><path d="M824.5 234.7 L825.1 233.2 L826.4 233.2 L828.0 233.6 L829.4 233.8 L830.4 233.1 L831.3 232.2 L832.4 231.3 L832.5 230.1 L831.7 229.0 L830.8 228.2 L829.5 227.6 L827.9 226.9 L826.9 225.5 L827.2 224.1 L827.9 222.8 L827.8 221.3 L827.6 219.4 L827.8 217.8 L828.4 216.8 L829.4 216.0 L830.9 215.6 L832.8 215.6 L834.8 214.9 L834.2 213.0 L833.2 212.2 L832.1 211.5 L830.8 211.1 L829.5 210.7 L828.6 210.0 L827.7 209.2 L826.7 208.5 L825.9 207.6 L825.4 206.3"/><path d="M825.4 206.3 L822.1 206.3 L818.7 206.3 L815.4 206.3 L812.0 206.3 L808.7 206.3 L805.3 206.3 L802.0 206.3 L798.7 206.3 L795.3 206.3 L792.0 206.3 L788.6 206.3 L785.3 206.3 L782.0 206.3 L778.6 206.3 L775.3 206.3 L771.9 206.3 L768.6 206.3 L768.6 202.9"/><path d="M833.8 214.7 L837.2 216.2 L840.6 217.7 L844.1 219.2"/><path d="M847.2 219.2 L848.6 215.4 L848.8 212.1 L849.1 208.9 L849.3 205.7 L850.8 201.2 L852.3 196.7 L852.4 193.2 L852.4 189.6 L852.4 186.1"/><path d="M852.4 186.1 L850.5 185.7 L850.5 180.6 L850.7 177.3 L850.9 174.1 L851.1 170.8 L851.3 167.6"/><path d="M849.3 205.7 L853.0 205.7 L856.6 205.7 L860.2 205.7 L863.9 205.7 L867.5 205.7 L871.1 205.7 L871.1 210.3 L871.1 215.0"/><path d="M871.1 206.1 L876.5 206.1 L878.2 209.4 L879.9 212.8"/><path d="M852.3 196.7 L855.7 196.8 L859.2 196.9 L862.6 196.9 L866.4 197.0 L870.1 197.1 L873.8 197.2 L877.6 197.3 L883.7 195.1"/><path d="M862.6 196.9 L863.3 195.8 L863.2 194.6 L863.7 193.4 L864.1 192.2 L864.2 191.0 L864.2 189.8 L864.7 188.9 L865.6 188.2 L866.6 187.3 L867.5 186.5 L868.6 185.6 L869.3 184.6 L869.2 183.2 L868.5 181.5 L868.3 180.0 L868.9 178.8 L869.7 178.0 L870.4 176.9 L870.8 175.6 L871.2 174.2 L871.9 173.6 L872.9 173.2 L874.3 172.4 L875.9 171.5 L877.1 170.5 L877.3 169.3 L875.0 167.6"/><path d="M885.3 192.4 L881.8 189.6 L881.6 186.4 L881.5 183.2 L881.3 179.9 L881.1 176.7 L880.9 173.5 L880.7 170.3 L880.6 167.1 L880.4 163.8"/><path d="M628.3 199.9 L631.7 199.9 L635.0 199.9 L638.3 199.9 L641.7 199.9 L645.0 199.9 L648.4 199.9 L651.7 199.9 L655.0 199.9 L658.4 199.9 L661.7 199.9 L665.0 199.9 L668.4 199.9 L671.7 199.9 L675.1 199.9"/><path d="M675.1 199.9 L675.1 196.7 L675.1 193.5 L675.2 190.2 L675.2 187.0 L675.2 183.8 L675.3 180.6 L675.3 177.4 L675.3 174.1 L676.4 170.7 L677.5 167.3 L678.6 163.8 L675.3 162.5"/><path d="M675.3 162.5 L674.5 163.7 L673.6 164.5 L672.4 164.9 L670.9 164.7 L669.6 164.7 L668.6 165.5 L667.7 166.2 L667.7 165.1 L667.4 163.9 L666.5 163.0 L665.5 162.0 L664.7 161.1 L663.7 160.4 L662.4 160.1 L661.2 159.6 L660.4 158.7 L660.4 157.5 L660.4 156.4 L659.4 155.7 L658.2 156.1 L656.9 157.2 L655.6 157.7 L654.4 157.2 L653.2 156.5 L652.0 156.2 L650.9 154.8"/><path d="M650.9 154.8 L647.6 154.2 L644.4 153.5 L641.2 152.9 L638.0 152.2 L634.6 149.9 L631.3 147.5 L629.5 142.8 L627.7 138.1"/><path d="M668.5 209.4 L668.5 212.8 L668.5 216.2 L668.5 219.6 L668.5 222.9 L668.5 226.3 L668.5 229.7 L668.5 233.1 L668.5 236.5 L668.5 239.8"/><path d="M668.5 239.8 L669.2 241.1 L668.4 242.3 L667.3 243.5 L667.1 244.7 L668.2 246.1 L669.4 247.5 L669.2 248.7 L667.9 249.9 L666.2 250.2 L664.6 250.3 L662.8 250.5 L661.4 250.9 L660.5 252.1 L660.7 254.5 L662.4 256.7 L663.8 258.3 L664.0 259.7 L661.8 260.4"/><path d="M668.5 209.4 L671.8 204.7 L675.1 199.9"/><path d="M703.4 243.7 L703.4 240.3 L703.4 237.0 L703.4 233.6 L703.4 230.3 L703.4 226.9 L703.4 223.6 L703.4 220.3 L703.4 216.9 L703.4 213.6 L703.4 210.2 L699.9 210.1 L696.4 210.0 L692.9 210.0 L689.5 209.9 L686.0 209.8 L682.5 209.7 L679.0 209.7 L675.5 209.6 L672.0 209.5 L668.5 209.4"/><path d="M703.4 210.2 L706.9 210.1 L710.5 210.0 L714.0 210.0 L717.5 209.9 L721.1 209.8 L725.6 207.6"/><path d="M207.3 116.2 L446.0 116.0 L571.0 116.0 L572.0 111.0 L576.0 114.0 L578.0 120.0 L592.0 122.5 L607.0 124.0 L619.5 129.0 L632.0 126.0 L648.0 127.5 L656.0 125.0 L672.0 130.0 L680.0 135.0 L693.8 139.6 L703.0 143.0 L712.3 145.3 L716.9 151.1 L726.1 154.6 L733.0 160.3 L737.6 173.0 L737.6 184.5 L733.0 196.0 L727.2 200.6 L728.4 208.7 L737.6 207.6 L749.1 202.9 L767.6 197.2 L779.1 192.6 L779.1 186.8 L797.5 185.7 L811.3 179.9 L827.5 169.5 L841.3 168.4 L860.0 168.9 L871.7 166.9 L879.5 164.0 L891.2 156.2 L896.1 146.4 L897.0 140.6 L903.9 136.7 L904.8 142.5 L918.5 138.6 L923.4 140.6 L924.3 160.1 L928.2 162.0 L933.1 169.8 L926.3 173.7 L920.4 176.7 L914.6 181.5 L899.0 185.4 L891.2 191.3 L885.3 197.1 L884.4 203.0 L894.1 206.9 L895.1 211.7 L889.2 214.7 L879.5 216.6 L869.7 218.6 L860.0 221.5 L840.0 231.6 L831.4 250.0 L826.3 256.7 L822.9 270.2 L824.6 283.7 L814.5 295.5 L794.3 305.6 L789.3 310.6 L784.2 315.7 L770.7 327.5 L763.0 330.0 L756.8 335.0 L751.1 341.3 L748.9 347.7 L750.0 354.0 L753.2 364.7 L758.5 377.4 L759.6 383.8 L762.8 392.3 L764.9 400.9 L764.9 411.5 L763.8 420.0 L761.7 425.3 L755.3 428.5 L742.6 430.2 L730.9 431.7 L729.8 429.6 L740.4 428.5 L751.1 426.4 L747.9 420.0 L742.6 413.6 L738.3 405.1 L731.9 394.5 L728.7 386.0 L731.9 377.4 L727.7 371.1 L721.3 365.7 L719.6 363.5 L712.2 361.0 L701.0 366.6 L692.3 361.0 L686.1 356.7 L674.9 358.0 L656.8 358.9 L652.2 362.0 L649.2 368.0 L647.7 374.0 L638.7 371.0 L626.6 374.0 L617.6 369.5 L602.5 366.5 L587.4 365.0 L575.4 372.5 L560.3 381.5 L548.2 390.6 L546.1 389.0 L542.1 398.6 L542.9 412.9 L531.8 411.3 L520.6 408.1 L517.4 401.8 L515.0 393.8 L509.4 389.0 L503.1 379.4 L498.3 371.5 L490.3 365.1 L483.9 363.5 L473.9 368.0 L467.9 374.0 L458.8 366.5 L449.8 355.9 L440.7 348.4 L422.7 337.8 L404.6 339.3 L401.5 342.4 L365.4 343.9 L335.2 339.3 L329.2 331.8 L317.1 328.8 L305.1 325.8 L300.0 325.8 L285.0 317.0 L274.4 312.8 L265.9 308.5 L255.2 305.3 L243.5 302.1 L240.3 295.7 L236.1 289.4 L230.7 285.1 L227.6 278.7 L225.4 273.4 L220.1 268.1 L218.0 261.7 L212.7 257.4 L206.3 248.9 L202.0 242.6 L199.9 236.2 L193.5 227.7 L195.6 219.1 L194.6 212.8 L194.0 193.5 L197.5 178.5 L199.0 161.0 L197.5 147.9 L194.8 139.0 L191.3 131.0 L189.1 125.7 L189.5 123.1 L200.2 126.2 L205.5 126.2 L209.0 124.8 L208.1 121.3 L210.8 119.1 Z"/></g>
<g opacity="0.72">
<path d="M468.5 26.0 L471.0 30.0 L480.0 32.5 L483.5 30.0 L484.0 24.0 L512.0 31.0 L587.0 47.5 L662.0 57.0 L744.5 60.0 L744.5 54.5 L748.0 55.0 L749.5 62.5 L768.0 65.5 L778.0 70.0 L785.5 69.0 L798.0 71.0 L808.0 67.0 L840.5 81.0 L848.0 86.0 L854.0 91.0 L858.0 94.0 L869.0 101.0 L873.0 110.0 L877.0 125.0 L874.0 140.5 L871.9 146.6 L875.9 151.9 L890.5 143.9 L895.5 140.5 L903.8 134.6 L909.1 130.6 L907.8 120.0 L908.0 119.0 L928.0 115.0 L933.0 105.0 L945.5 92.5 L976.8 85.0 L983.0 75.0 L986.8 51.0 L990.5 45.0 L999.0 44.0 L1004.0 46.0 L1010.5 64.0 L1015.5 69.0 L1019.0 74.0 L1015.5 80.0 L1008.0 87.5 L997.1 98.7 L993.4 106.1 L992.8 111.7 L994.0 115.4 L994.7 119.8 L998.4 121.0 L1002.1 120.4 L1005.2 123.5 L1004.6 127.2 L1002.1 129.7 L997.1 134.7 L994.7 130.9 L992.2 127.2 L990.9 129.7 L992.2 137.1 L987.2 139.6 L978.5 144.6 L968.6 152.0 L967.4 154.5 L969.9 160.0 L968.9 170.5 L964.9 178.5 L960.9 186.5 L959.6 197.1 L961.0 207.7 L968.9 226.3 L966.3 234.3 L957.0 242.3 L946.3 250.2 L941.0 258.2 L936.7 257.0 L931.0 268.4 L921.1 277.0 L915.4 285.5 L911.1 299.7 L912.6 308.2 L919.7 322.4 L928.2 333.8 L932.4 345.1 L938.1 356.5 L939.5 370.7 L936.7 379.2 L933.0 383.0 L922.5 389.0 L908.3 392.0 L906.9 390.6 L916.8 387.7 L928.2 382.0 L921.1 373.5 L914.0 362.2 L905.5 353.6 L899.8 342.3 L901.2 333.8 L894.1 325.2 L885.6 319.5 L877.0 318.1 L871.4 323.8 L865.7 321.0 L854.9 315.7 L848.9 316.4 L841.9 318.2 L833.7 320.5 L826.6 321.7 L823.1 324.1 L823.7 329.9 L822.0 336.3 L819.6 339.3 L817.3 336.3 L812.6 335.2 L807.9 338.1 L800.9 339.3 L793.9 336.9 L788.0 334.6 L782.2 332.8 L775.1 332.2 L770.4 331.1 L763.4 331.1 L754.4 336.2 L744.4 343.6 L734.5 348.6 L724.6 356.1 L720.2 362.6 L719.1 367.9 L721.3 375.3 L720.2 383.8 L712.8 381.7 L706.4 379.6 L700.0 376.4 L696.0 372.0 L693.6 366.0 L692.3 361.0 L688.6 357.3 L682.4 347.4 L677.4 337.4 L670.0 330.0 L666.7 328.0 L656.8 329.3 L646.8 337.9 L634.4 326.8 L629.5 314.4 L619.6 302.0 L609.6 293.3 L592.3 294.5 L579.9 298.2 L560.0 295.8 L548.6 290.4 L542.0 284.6 L534.5 281.0 L523.3 274.7 L516.0 268.5 L501.0 266.0 L488.6 263.5 L487.4 254.8 L486.0 245.0 L479.7 246.5 L474.8 238.7 L469.0 231.0 L460.2 228.0 L457.3 221.0 L453.4 209.5 L449.5 198.0 L450.5 190.0 L448.5 178.5 L446.0 166.0 L441.0 152.0 L441.0 141.0 L443.5 132.5 L446.5 115.0 L448.5 102.5 L456.0 90.0 L463.5 75.0 L467.0 57.5 L468.0 45.0 Z" fill="rgb(247,212,81)"/>
<g fill="none" stroke="rgb(200,100,0)" stroke-width="1" shape-rendering="crispEdges" stroke-linejoin="round"><path d="M467.7 57.8 L468.8 58.4 L470.1 58.5 L471.3 58.9 L472.3 59.7 L473.2 60.5 L474.3 61.0 L475.7 61.1 L477.1 61.6 L477.8 63.1 L477.1 64.5 L476.4 65.7 L476.4 67.0 L477.9 68.2 L479.5 67.8 L479.7 66.7 L480.4 68.1 L480.7 70.0 L481.4 71.7 L482.6 72.8 L483.8 73.0 L485.1 72.7 L486.3 73.1 L487.4 74.0 L488.4 74.0 L489.7 73.2 L491.4 72.2 L492.8 71.8 L493.9 72.3 L494.8 72.7 L495.8 72.5 L497.0 72.5 L498.2 72.8 L499.4 73.2 L500.6 73.7 L501.8 74.2 L503.0 74.4 L504.3 74.7 L505.5 75.2 L506.8 75.3 L507.9 74.7 L509.1 74.2 L510.3 74.1 L511.5 74.3 L512.7 74.3 L514.0 74.2"/><path d="M514.0 74.2 L516.4 74.8 L518.9 75.4 L521.3 76.0 L523.7 76.6 L526.2 77.1 L528.6 77.7 L531.1 78.3 L533.6 78.8"/><path d="M533.6 78.8 L534.8 77.6 L534.0 76.4 L533.5 75.2 L533.6 74.0 L533.7 72.8"/><path d="M533.7 72.8 L534.5 69.3 L535.3 65.8 L536.1 62.3 L536.9 58.7 L537.7 55.2 L538.5 51.7 L539.3 48.2 L540.0 44.7 L540.8 41.2 L541.6 37.7"/><path d="M533.6 78.8 L533.4 80.4 L534.9 80.8 L536.0 81.5 L536.9 82.5 L537.1 83.8 L536.8 85.2 L536.6 86.5 L536.1 87.7 L535.1 88.5 L533.6 88.9 L531.7 89.0 L530.2 89.6 L529.5 90.8 L529.3 92.2 L529.1 93.3 L528.8 94.3 L528.1 95.1 L527.6 96.2 L527.4 97.6 L527.6 99.3 L527.8 100.5 L528.2 100.8 L528.3 101.6 L528.4 102.8 L528.9 103.9 L529.4 105.4 L529.2 107.4 L528.3 108.8 L525.7 108.8"/><path d="M525.7 108.8 L524.9 112.3 L524.1 115.8 L523.3 119.4 L522.5 122.9 L521.7 126.5 L520.9 130.0 L520.1 133.6"/><path d="M448.2 114.5 L450.8 115.3 L453.4 116.0 L456.0 116.8 L458.7 117.6 L461.3 118.4 L463.9 119.1 L466.5 119.9 L469.1 120.6 L471.8 121.4 L474.4 122.1 L477.0 122.8 L479.6 123.5 L482.3 124.2 L484.9 124.9 L487.6 125.6 L490.2 126.3 L492.9 127.0 L495.6 127.7 L498.3 128.4 L501.0 129.1 L503.8 129.7 L506.5 130.4 L509.2 131.0 L511.9 131.7 L514.6 132.3 L517.4 132.9 L520.1 133.6 L522.9 134.2 L525.6 134.8 L528.4 135.4 L531.1 136.0 L533.9 136.6 L536.6 137.1 L539.4 137.7 L542.1 138.3 L544.9 138.8 L547.7 139.4 L550.4 139.9 L553.2 140.4 L556.0 141.0 L558.7 141.5 L561.5 142.0 L564.3 142.5 L567.1 143.0 L569.8 143.4 L572.6 143.9 L575.4 144.4 L578.2 144.8 L580.9 145.3"/><path d="M490.2 126.3 L489.3 129.7 L488.4 133.2 L487.5 136.6 L486.6 140.0 L485.8 143.4 L484.9 146.9 L484.0 150.3 L483.1 153.7 L482.2 157.2 L481.3 160.6 L480.4 164.0 L479.6 167.5 L481.6 170.8 L483.6 174.1 L485.6 177.4 L487.7 180.7 L489.7 184.0 L491.8 187.2 L493.9 190.5 L496.1 193.8 L498.2 197.1 L500.3 200.3 L502.5 203.6 L504.7 206.9 L506.9 210.1 L509.1 213.4 L511.3 216.6 L513.6 219.9 L515.8 223.1 L518.1 226.3 L520.4 229.6 L522.7 232.8 L525.1 236.0"/><path d="M525.1 236.0 L523.9 237.5 L524.5 238.6 L525.9 239.6 L528.0 240.5 L529.8 241.5 L530.4 243.4 L529.7 245.4 L529.0 246.6 L528.5 247.7 L527.7 248.9 L526.2 249.9 L524.2 250.4 L523.0 251.2 L522.8 252.5 L522.8 253.9 L522.0 254.8 L520.5 255.4 L519.1 256.0 L517.9 257.0 L517.6 258.5 L517.7 259.9 L518.0 261.2 L518.0 262.5 L517.8 263.7 L517.3 264.8 L516.2 265.9 L517.7 267.4"/><path d="M525.1 236.0 L525.2 234.8 L525.4 233.5 L525.7 232.3 L526.4 231.2 L527.1 230.1 L527.9 228.9 L528.3 227.6 L527.4 226.2 L525.6 224.9 L524.4 223.7 L524.8 221.8 L527.0 221.3 L528.7 222.6 L529.9 223.4 L530.8 223.0 L532.1 221.7 L533.7 220.0 L534.6 222.0"/><path d="M534.6 222.0 L535.4 217.8 L536.2 213.7 L537.0 209.5 L537.7 206.0 L538.4 202.5 L539.0 199.0 L539.7 195.6 L540.4 192.1 L541.0 188.6 L541.7 185.1 L542.4 181.6 L543.1 178.1 L543.7 174.7 L544.4 171.2 L545.1 167.7 L545.7 164.2 L546.4 160.8 L547.1 157.3 L547.8 153.8 L548.4 150.3 L549.1 146.8 L549.8 143.4 L550.4 139.9"/><path d="M580.9 145.3 L581.5 141.8 L582.1 138.3 L582.6 134.8 L583.2 131.3 L583.7 127.8 L584.3 124.4 L584.9 120.9 L585.4 117.4 L586.0 113.9 L586.5 110.4 L587.1 107.0 L587.6 103.5 L590.1 103.9 L592.5 104.3 L595.0 104.6 L597.4 105.0 L599.9 105.4 L602.3 105.7 L604.8 106.1 L607.3 106.4 L609.7 106.8 L612.2 107.1 L614.6 107.4 L617.1 107.7 L619.5 108.1 L622.0 108.4 L624.5 108.7 L626.9 109.0 L629.4 109.2 L631.9 109.5 L634.3 109.8 L636.8 110.1 L639.2 110.3 L641.7 110.6 L644.2 110.8 L646.6 111.1 L649.1 111.3 L651.6 111.5 L654.1 111.7 L656.5 112.0"/><path d="M586.5 110.4 L585.5 109.6 L584.4 108.9 L583.3 108.4 L581.9 108.9 L580.4 109.9 L579.3 110.3 L578.4 110.1 L577.2 109.9 L576.0 110.0 L574.7 109.6 L573.5 108.6 L572.5 107.5 L571.4 107.1 L570.2 107.3 L569.2 107.5 L568.4 106.7 L567.9 105.5 L567.2 104.5 L566.4 103.7 L566.0 102.6 L565.8 101.3 L565.2 100.2 L564.2 99.5 L563.4 98.6 L563.0 97.3 L562.7 96.2 L562.1 95.2 L561.5 94.1 L560.7 93.2 L559.5 92.5 L558.3 91.8 L557.3 91.0 L556.5 90.1 L556.1 89.1 L556.2 88.5 L555.9 87.3 L556.1 86.1 L557.2 85.2 L558.4 84.2 L558.6 82.8 L558.4 81.5 L557.8 80.3 L556.8 79.0 L555.8 77.8 L555.6 76.6 L556.3 75.5 L557.0 74.4 L557.0 73.0 L556.6 71.9 L555.6 71.0 L554.2 70.4 L553.0 69.8 L552.6 68.6 L552.9 67.0 L553.4 65.3 L553.6 63.8 L553.4 62.5 L552.6 61.6 L551.5 60.8 L550.3 60.3 L549.2 59.4 L548.7 58.3 L548.5 57.1 L547.9 56.0 L547.2 54.9 L547.7 53.6"/><path d="M547.7 53.6 L548.4 50.1 L549.2 46.6 L549.9 43.2 L550.6 39.7"/><path d="M661.3 56.3 L661.0 59.8 L660.7 63.3 L660.4 66.9 L660.1 70.4 L659.8 73.9 L659.5 77.5 L659.2 81.0 L658.9 84.6 L658.6 88.1 L658.3 91.7 L658.0 95.2 L657.6 98.8 L657.3 103.2 L656.9 107.6 L656.5 112.0 L656.2 115.5 L655.9 119.0 L655.6 122.5 L655.3 126.0 L655.0 129.5 L654.7 133.0 L654.4 136.5 L654.1 140.0 L653.8 143.6 L653.5 147.1 L653.2 150.6 L652.9 154.1 L652.6 157.6 L652.3 161.2 L652.0 164.7 L651.7 168.2"/><path d="M580.9 145.3 L580.4 148.8 L579.8 152.3 L579.3 155.8 L578.7 159.3 L581.3 159.7 L583.9 160.1 L586.5 160.5 L589.1 160.9 L591.7 161.3 L594.3 161.6 L596.9 162.0 L599.5 162.4 L602.1 162.7 L604.7 163.1 L607.3 163.4 L609.9 163.8 L612.5 164.1 L615.1 164.4 L617.7 164.7 L620.3 165.0 L623.0 165.3 L625.6 165.6 L628.2 165.9 L630.8 166.2 L633.4 166.5 L636.0 166.8 L638.6 167.0 L641.2 167.3 L643.9 167.5 L646.5 167.8 L649.1 168.0 L651.7 168.2 L654.3 168.4 L657.0 168.7 L659.6 168.9 L662.2 169.1 L664.8 169.3 L667.4 169.4 L670.1 169.6 L672.7 169.8 L672.4 173.3 L672.2 176.9 L672.0 180.4 L671.8 183.9 L671.5 187.5 L671.3 191.0 L671.1 194.5 L670.9 198.1 L670.6 201.6 L670.4 205.2 L670.2 208.7 L669.9 212.2 L669.7 215.8 L669.5 219.3 L669.3 222.8 L669.0 226.4"/><path d="M599.5 162.4 L599.0 165.9 L598.5 169.4 L598.0 172.9 L597.5 176.4 L597.1 179.9 L596.6 183.4 L596.1 186.9 L595.6 190.4 L595.1 194.0 L594.6 197.5 L594.1 201.0 L593.6 204.5 L593.2 208.0 L592.7 211.5 L592.2 215.0 L591.7 218.5 L591.2 222.2 L590.7 225.8 L590.2 229.4 L589.7 233.0 L589.2 236.6 L588.7 240.2 L588.2 243.9 L587.7 247.5 L587.2 251.1 L586.7 254.7 L586.2 258.3 L585.7 261.9 L585.2 265.5 L584.7 269.2 L584.2 272.8 L583.7 276.4 L583.2 280.0 L582.7 283.6 L582.2 287.2 L581.7 290.8 L581.2 294.4 L580.7 298.0"/><path d="M537.0 209.5 L539.9 210.0 L542.8 210.6 L545.6 211.1 L548.5 211.6 L551.4 212.1 L554.2 212.6 L557.1 213.1 L560.0 213.6 L562.9 214.1 L565.7 214.6 L568.6 215.1 L571.5 215.5 L574.4 216.0 L577.3 216.4 L580.1 216.9 L583.0 217.3 L585.9 217.7 L588.8 218.1 L591.7 218.5 L594.5 218.9 L597.2 219.3 L600.0 219.7 L602.8 220.0 L605.6 220.4 L608.4 220.7 L611.1 221.0 L613.9 221.4 L616.7 221.7 L619.5 222.0 L622.3 222.3 L625.0 222.6 L627.8 222.9 L630.6 223.2 L633.4 223.5 L636.2 223.7 L639.0 224.0 L641.8 224.3 L644.6 224.5 L647.3 224.8 L650.1 225.0 L652.9 225.2 L655.7 225.4 L658.5 225.6 L662.0 225.9 L665.5 226.1 L669.0 226.4 L671.9 226.6 L674.7 226.7 L677.6 226.9 L680.4 227.0 L683.2 227.2 L686.1 227.3 L688.9 227.5 L691.8 227.6 L694.6 227.7 L697.5 227.8 L700.3 227.9 L703.1 228.0 L706.0 228.1 L708.8 228.2 L711.7 228.3 L714.5 228.3 L717.4 228.4 L720.2 228.4 L723.1 228.5 L725.9 228.5 L728.8 228.5 L731.6 228.5 L734.4 228.6 L737.3 228.6 L740.1 228.6 L743.0 228.5 L745.8 228.5 L748.7 228.5 L751.5 228.5"/><path d="M658.5 225.6 L658.2 229.2 L658.0 232.7 L657.7 236.3 L657.5 239.8 L657.2 243.3 L656.9 246.9 L656.7 250.4 L656.4 253.9 L656.1 257.4 L655.9 261.0 L655.6 264.5 L655.4 268.0 L655.1 271.6 L654.8 275.1 L654.6 278.6 L654.3 282.1 L654.0 285.7 L653.8 289.2 L653.5 292.7 L653.3 296.2 L650.2 296.0 L647.1 295.7 L644.1 295.5 L641.0 295.2 L638.0 295.0 L634.9 294.7 L631.9 294.4 L628.8 294.1 L625.8 293.8 L622.7 293.5 L619.7 293.2 L616.6 292.9 L613.6 292.6 L610.5 292.2"/><path d="M658.0 232.7 L660.8 232.9 L663.6 233.1 L666.3 233.3 L669.1 233.5 L671.9 233.7 L674.7 233.8 L677.5 234.0 L680.3 234.1 L683.1 234.3 L685.9 234.4 L688.7 234.6 L691.5 234.7 L691.3 238.6 L691.1 242.5 L691.0 246.5 L690.8 250.4 L690.6 254.3 L690.5 258.2 L690.3 262.1"/><path d="M690.3 262.1 L689.9 265.4 L691.0 265.8 L692.5 265.7 L693.8 265.6 L695.3 265.5 L696.9 265.3 L698.2 265.7 L699.1 266.5 L699.9 267.2 L700.8 267.6 L701.7 268.7 L702.4 270.0 L703.4 270.8 L704.4 271.6 L705.4 272.4 L706.8 272.4 L708.2 271.7 L709.5 271.3 L710.7 271.7 L711.8 272.1 L713.1 272.0 L714.4 271.6 L715.6 271.4 L716.9 271.1 L718.2 271.1 L719.2 271.9 L720.2 273.3 L721.1 275.0 L722.5 275.8 L723.7 274.8 L724.6 273.1 L725.6 271.6 L726.6 270.9 L728.0 270.6 L729.7 271.1 L730.9 272.8 L731.6 274.9 L732.5 276.3 L733.9 276.5 L735.4 275.4 L736.5 273.7 L737.4 272.2 L738.4 270.8 L739.5 269.7 L740.6 269.5 L742.4 270.3 L743.9 272.0 L744.8 273.8 L745.8 275.0 L746.9 275.6 L748.0 276.2 L749.0 276.8 L750.4 276.6 L751.9 275.7 L753.3 275.1 L754.5 275.1 L755.7 275.1 L757.0 274.8 L758.3 274.7 L758.9 277.2"/><path d="M751.5 228.5 L751.6 232.0 L751.6 235.5 L752.2 239.4 L752.8 243.3 L753.4 247.2 L754.0 251.1 L754.0 254.7 L753.9 258.2 L753.9 261.8 L753.9 265.3 L753.9 268.9 L753.8 272.5 L753.8 276.0"/><path d="M758.9 277.2 L759.0 281.1 L759.1 285.0 L759.2 288.5 L759.2 292.0 L759.3 295.6 L759.4 299.1"/><path d="M759.4 299.1 L759.7 300.3 L761.0 301.0 L762.0 301.9 L762.9 302.8 L763.8 303.7 L764.2 304.8 L764.2 306.2 L764.3 307.6 L764.8 308.7 L765.2 309.9 L765.1 311.2 L764.8 312.5 L765.0 313.5 L765.7 314.9 L766.1 316.2 L766.1 317.5 L765.5 318.6 L764.1 319.5 L762.6 320.6 L761.8 321.9 L762.0 323.1 L762.3 324.3 L762.1 325.5 L761.5 326.5 L761.2 327.3 L762.0 328.7 L764.0 330.6 L762.5 331.4"/><path d="M671.8 183.9 L674.5 184.1 L677.3 184.3 L680.0 184.4 L682.8 184.6 L685.6 184.7 L688.3 184.9 L691.1 185.0 L693.8 185.1 L696.6 185.2 L699.4 185.3 L702.1 185.4 L704.9 185.5 L707.7 185.6 L710.4 185.7 L713.2 185.7 L715.9 185.8 L718.7 185.9 L721.5 185.9 L724.2 185.9 L727.0 186.0 L729.8 186.0 L732.5 186.0 L735.3 186.0 L738.0 186.0 L740.8 186.0 L743.6 186.0"/><path d="M657.6 98.8 L660.2 99.0 L662.7 99.2 L665.2 99.4 L667.7 99.6 L670.2 99.8 L672.8 100.0 L675.3 100.1 L677.8 100.3 L680.3 100.5 L682.8 100.6 L685.4 100.8 L687.9 100.9 L690.4 101.0 L692.9 101.1 L695.4 101.3 L698.0 101.4 L700.5 101.5 L703.0 101.6 L705.5 101.7 L708.1 101.7 L710.6 101.8 L713.1 101.9 L715.6 101.9 L718.2 102.0 L720.7 102.0 L723.2 102.1 L725.7 102.1 L728.3 102.1 L730.8 102.2"/><path d="M730.8 102.2 L730.7 101.0 L731.1 99.6 L732.2 98.1 L732.7 96.7 L731.6 95.8 L729.3 95.1 L727.5 94.3 L727.5 92.9 L729.0 91.6 L730.4 90.3 L730.8 89.1 L730.9 87.9 L731.2 86.6 L731.3 85.4 L730.3 84.1 L728.4 83.1 L726.9 82.2 L726.3 81.1 L726.5 79.8 L727.0 78.5 L727.1 77.2 L726.7 76.1 L726.5 74.9 L727.0 73.7 L727.3 72.5 L726.9 71.4 L726.2 70.2 L725.5 69.0 L724.7 67.8 L723.8 66.7 L723.5 65.6 L724.1 64.3 L725.3 63.0 L726.4 61.7 L726.9 60.4 L724.8 59.4"/><path d="M654.1 140.0 L656.7 140.3 L659.3 140.5 L661.8 140.7 L664.4 140.9 L667.0 141.1 L669.5 141.2 L672.1 141.4 L674.7 141.6 L677.2 141.7 L679.8 141.9 L682.4 142.0 L685.0 142.2 L687.5 142.3 L690.1 142.4 L692.7 142.6 L695.3 142.7 L697.8 142.8 L700.4 142.9 L703.0 143.0 L705.6 143.1 L708.1 143.1 L710.7 143.2"/><path d="M710.7 143.2 L712.2 142.6 L713.5 142.7 L714.6 143.5 L715.5 144.5 L716.5 145.8 L717.6 146.8 L718.9 146.8 L720.3 146.0 L721.7 145.3 L723.0 145.0 L724.4 145.2 L725.6 146.2 L726.3 147.4 L726.9 149.0 L727.6 150.3 L728.6 150.9 L729.6 151.6 L731.6 150.8"/><path d="M730.8 102.2 L731.3 106.7 L731.8 111.2 L731.8 114.8 L731.8 118.4 L731.8 122.0 L731.7 125.6 L731.7 129.2 L731.7 132.9 L731.7 136.5"/><path d="M731.7 136.5 L732.5 137.9 L732.7 139.2 L733.0 140.5 L732.9 141.8 L732.7 143.0 L732.9 144.2 L732.6 145.5 L731.0 146.9 L729.3 148.3 L728.6 149.7 L731.6 150.8"/><path d="M731.6 150.8 L731.7 152.0 L731.4 153.5 L731.4 154.8 L732.2 155.8 L732.9 156.8 L733.2 158.1 L733.4 159.3 L733.8 160.5 L734.7 161.4 L736.0 162.2 L736.9 163.2 L737.2 164.4 L737.7 165.6 L738.5 166.8 L738.7 168.0 L738.1 169.3 L737.5 170.5 L737.5 171.7 L737.8 172.9 L737.4 174.3 L736.5 175.7 L735.5 177.1 L735.2 179.1 L736.0 180.8 L737.2 181.5 L739.0 181.9 L740.6 182.4 L741.2 183.4 L741.6 184.6 L742.4 185.6 L743.4 186.4 L743.8 187.5 L744.0 188.7 L744.5 189.9 L745.3 190.9 L746.2 191.8 L747.3 192.5 L748.1 193.4 L748.4 194.7 L748.6 196.1 L749.2 197.3 L750.1 198.1 L751.3 198.7"/><path d="M751.3 198.7 L751.3 202.4 L751.4 206.1 L751.4 209.8 L751.4 213.6 L751.4 217.3 L751.5 221.0 L751.5 224.7 L751.5 228.5"/><path d="M731.7 136.5 L734.3 136.5 L737.0 136.5 L739.6 136.5 L742.3 136.5 L744.9 136.5 L747.6 136.5 L750.2 136.4 L752.9 136.4 L755.5 136.3 L758.2 136.3 L760.8 136.2 L763.5 136.1 L766.1 136.1 L768.8 136.0 L771.4 135.9 L774.1 135.8 L776.7 135.7 L779.4 135.6 L782.0 135.5 L784.7 135.3"/><path d="M784.7 135.3 L784.2 134.2 L784.2 132.9 L783.9 131.7 L783.2 130.9 L782.3 130.2 L781.4 129.3 L780.4 128.5 L779.6 127.6 L779.1 126.4 L778.7 125.1 L778.1 123.9 L777.2 123.1 L776.0 122.5 L774.9 121.9 L773.6 121.4 L772.1 121.7 L770.9 122.3 L769.7 122.1 L768.7 121.3 L767.3 119.6 L767.7 117.5 L769.0 116.3 L769.6 115.1 L769.0 113.8 L767.7 112.5 L766.8 111.3 L766.7 110.1 L767.2 109.2 L767.7 107.9 L767.5 106.7 L766.6 105.7 L765.8 104.2 L766.3 102.3 L767.2 100.7 L767.6 99.4 L768.4 98.4 L769.5 97.8 L772.4 99.3"/><path d="M772.4 99.3 L772.2 95.4 L772.1 91.6 L774.9 89.8 L777.7 88.1 L780.5 86.3 L783.8 84.0 L787.0 81.8 L789.7 79.2 L792.5 76.6 L795.1 73.9 L797.8 71.3"/><path d="M784.7 135.3 L784.8 136.5 L784.9 137.7 L785.3 138.9 L785.6 140.1 L785.4 141.3 L784.8 143.0 L785.3 144.4 L786.3 145.2 L787.7 145.6 L789.2 146.0 L790.5 146.4 L791.3 147.3 L791.7 148.5 L792.5 149.3 L793.6 149.9 L794.4 150.8 L794.9 152.1 L795.0 153.5 L794.1 154.3 L794.1 155.3 L795.0 156.4 L795.9 157.6 L795.9 158.5 L794.7 158.8 L793.6 159.4 L793.3 160.8 L793.7 162.8 L793.4 164.6 L791.7 164.6 L790.1 163.9 L788.9 164.2 L788.8 165.5 L789.3 166.7 L788.5 167.8 L786.7 168.8 L785.3 169.9 L785.4 171.0 L786.4 172.1 L787.2 173.7 L787.6 175.2 L787.6 176.5 L786.7 177.4 L785.3 178.1 L784.8 179.2"/><path d="M738.8 177.8 L741.4 177.8 L744.1 177.8 L746.7 177.8 L749.4 177.7 L752.1 177.7 L754.7 177.6 L757.4 177.6 L760.1 177.5 L762.7 177.5 L765.4 177.4 L768.0 177.3 L770.7 177.2 L773.4 177.1 L776.0 177.0 L778.7 176.9 L781.4 176.8"/><path d="M781.4 176.8 L781.5 179.0 L782.3 180.3 L784.8 179.2"/><path d="M784.8 179.2 L785.0 180.4 L785.9 181.6 L786.1 182.8 L785.8 184.0 L785.7 185.2 L785.7 186.1 L786.0 187.1 L786.5 188.3 L787.3 189.1 L788.4 189.8 L789.3 190.7 L789.8 191.7 L790.1 193.0 L790.5 194.3 L791.5 195.1 L792.8 195.5 L793.9 196.1 L794.6 197.1 L795.2 198.2 L795.9 199.2 L796.6 200.2 L797.4 201.1 L798.1 202.1 L798.7 203.2 L799.6 204.1 L800.7 205.1 L801.8 206.0 L802.7 206.9 L802.9 208.2 L802.1 209.7 L801.5 211.1 L802.1 212.1 L803.5 212.3 L804.4 213.0 L805.1 214.1 L806.0 214.9 L807.0 215.6 L807.7 216.7 L807.9 218.1 L808.4 219.2 L809.7 219.9 L811.1 220.5 L812.0 221.4 L812.8 222.4 L813.6 223.3 L814.5 225.0 L814.0 227.2 L812.7 228.3 L811.0 228.9 L808.8 229.1 L806.7 229.5 L805.9 230.5 L806.3 232.3 L807.5 234.1 L808.5 235.6 L809.1 236.9 L809.0 238.2 L808.2 239.2 L807.2 240.2 L806.6 241.3 L806.3 242.5 L806.2 243.7 L805.9 244.9 L805.0 245.9 L803.8 246.7 L803.0 247.6 L802.7 248.8 L802.5 250.1 L802.2 251.3 L802.1 252.5 L802.1 253.8 L801.9 255.0 L801.6 256.2 L801.5 257.5 L801.7 258.9 L801.9 260.3 L801.6 261.5 L800.1 262.1 L797.7 262.4 L795.4 262.8 L794.2 263.6 L794.1 264.9 L794.6 266.4 L795.8 268.2 L797.4 270.1 L798.9 271.6 L799.4 272.9 L798.4 273.9 L796.3 274.6 L794.2 275.2 L793.2 276.2 L793.5 277.5 L794.1 278.7 L794.3 279.9 L794.3 281.1 L794.4 282.3 L794.4 283.3 L794.4 284.2 L794.4 285.4 L794.8 286.5 L795.4 287.6 L795.8 288.7 L796.1 290.2 L796.2 291.9 L796.6 293.6 L797.2 295.2 L796.7 296.3 L794.8 296.8 L792.5 297.1 L790.9 297.8 L790.2 298.9 L790.0 300.1 L790.0 301.3 L790.2 302.6 L791.0 304.1 L792.1 305.5 L792.8 306.6 L792.7 307.8 L792.3 309.0 L792.0 310.2 L792.2 311.4 L788.9 312.2"/><path d="M788.9 312.2 L792.1 312.1 L795.3 311.9 L798.5 311.8 L801.7 311.6 L804.9 311.4 L808.1 311.2 L811.3 311.0"/><path d="M811.3 311.0 L810.5 312.4 L810.7 313.7 L811.0 315.0 L811.5 316.2 L812.3 317.4 L813.3 318.4 L814.2 319.5 L814.4 320.8 L813.7 322.4"/><path d="M807.0 240.4 L803.3 240.7 L799.5 240.9"/><path d="M799.5 240.9 L799.5 239.6 L800.4 238.5 L800.2 237.2 L800.0 235.8 L800.2 234.6 L801.6 233.7"/><path d="M801.6 233.7 L798.6 233.8 L795.7 234.0 L792.8 234.2 L789.8 234.3 L786.9 234.5 L783.9 234.6 L781.0 234.7 L778.1 234.8 L775.1 235.0 L772.2 235.1 L769.3 235.2 L766.3 235.2 L763.4 235.3 L760.4 235.4 L757.5 235.4 L754.6 235.5 L751.6 235.5"/><path d="M759.1 285.0 L762.1 284.9 L765.2 284.8 L768.3 284.8 L771.3 284.7 L774.4 284.6 L777.4 284.5 L780.5 284.3 L783.5 284.2 L786.6 284.1 L789.6 283.9 L792.7 283.8"/><path d="M801.1 255.0 L804.1 254.8 L807.1 254.6 L810.1 254.4 L813.1 254.2 L816.1 254.0 L819.1 253.8 L822.1 253.5 L825.0 253.3 L828.0 253.1 L831.0 252.8 L833.9 252.5 L836.9 252.3 L839.8 252.0 L842.8 251.7 L845.7 251.4 L848.7 251.1 L851.6 250.8 L854.6 250.5 L857.5 250.2 L860.5 249.8 L863.4 249.5 L866.3 249.1 L869.3 248.8 L872.7 248.4 L876.1 247.9 L879.5 247.5 L882.9 247.0"/><path d="M825.0 253.3 L826.3 254.6 L826.3 258.3 L826.4 262.0 L826.4 265.7 L826.4 269.4 L826.5 273.1 L826.5 276.8 L826.5 280.4 L826.5 284.1 L826.6 287.8 L826.6 291.5 L826.6 295.2 L826.6 298.9 L826.6 302.5 L826.6 306.2 L826.7 309.9 L827.1 313.4 L827.6 316.9 L828.1 320.4"/><path d="M854.6 250.5 L855.6 254.2 L856.6 257.9 L857.6 261.6 L858.6 265.4 L859.7 269.1 L860.7 272.8 L861.7 276.5 L862.8 280.2"/><path d="M862.8 280.2 L864.0 280.9 L864.6 282.0 L865.3 283.0 L866.0 284.0 L866.8 285.0 L867.0 286.3 L866.4 287.9 L865.2 289.1 L864.5 290.3 L864.2 291.5 L864.1 292.7 L864.4 293.9 L864.6 295.1 L864.6 296.4 L865.3 297.6 L866.5 298.8 L867.3 299.7 L867.5 300.9 L867.9 302.1 L868.5 303.1 L868.7 304.4 L867.9 305.9"/><path d="M867.9 305.9 L864.8 306.2 L861.7 306.6 L858.6 306.9 L855.4 307.2 L852.3 307.6 L849.2 307.9 L846.1 308.2 L843.0 308.5 L839.9 308.8 L836.8 309.0 L837.9 314.0 L838.9 319.0"/><path d="M867.9 305.9 L870.0 309.9 L873.2 309.7 L876.4 309.5 L879.6 309.3 L882.8 309.1 L886.0 308.9 L889.2 308.7 L892.4 308.4 L895.6 308.2 L898.9 308.0 L902.1 307.8 L904.2 309.6 L907.5 307.0 L910.7 304.4"/><path d="M882.9 247.0 L881.2 247.7 L880.2 248.6 L878.9 249.5 L878.2 252.5 L880.8 253.9 L882.8 253.5 L884.3 253.5 L885.5 254.0 L886.5 254.7 L887.3 255.7 L888.0 256.7 L889.1 257.3 L890.5 257.5 L892.1 257.4 L893.9 257.4 L895.2 257.8 L895.8 259.0 L896.0 260.6 L896.2 262.2 L896.6 263.5 L897.2 264.7 L897.5 266.1 L897.8 267.5 L898.7 268.2 L900.1 268.6 L901.3 269.3 L902.3 270.0 L903.2 270.8 L904.0 271.7 L904.6 272.8 L904.9 274.1 L905.1 275.5 L905.3 276.9 L905.8 278.1 L906.9 278.8 L908.2 279.3 L909.3 280.1 L910.0 281.1 L910.5 282.4 L911.1 283.5 L912.3 284.0 L914.0 283.9 L914.9 284.7"/><path d="M808.8 233.2 L812.1 233.0 L815.3 232.7 L818.5 232.5 L821.8 232.2 L825.0 232.0 L824.8 229.4 L827.6 229.3 L830.5 229.2 L833.3 229.0 L836.2 228.9 L839.1 228.7 L841.9 228.5 L844.8 228.3 L847.6 228.1 L850.5 227.9 L853.4 227.6 L856.2 227.3 L859.1 227.0 L861.9 226.7 L864.8 226.4 L867.7 226.1 L870.5 225.7 L873.4 225.4 L876.2 225.0 L879.0 224.7 L881.8 224.3 L884.6 223.9 L887.4 223.5 L890.2 223.1 L893.0 222.7 L895.8 222.3 L898.6 221.9 L901.4 221.5 L904.2 221.0 L906.9 220.6 L909.7 220.2 L912.5 219.8 L915.3 219.3 L918.0 218.9 L920.8 218.4 L923.6 218.0 L926.3 217.5 L929.1 217.0 L931.9 216.6 L934.6 216.1 L937.4 215.6 L940.2 215.1 L942.9 214.6 L945.7 214.0 L948.5 213.5 L951.2 213.0 L954.0 212.4 L956.7 211.9 L959.5 211.3"/><path d="M895.8 222.3 L895.2 223.3 L894.9 224.5 L895.3 226.0 L895.5 227.4 L895.0 228.5 L894.1 229.7 L892.6 230.2 L891.2 230.2 L890.2 230.9 L889.3 232.0 L888.3 232.8 L886.8 232.5 L885.0 231.3 L883.5 230.9 L882.4 232.4 L882.2 234.4 L881.5 235.5 L880.1 235.8 L878.8 236.3 L878.2 237.5 L878.2 239.2 L878.0 241.0 L877.3 242.3 L876.2 242.9 L875.0 243.3 L873.9 243.9 L873.0 244.7 L872.0 245.0 L871.0 245.5 L870.2 246.5 L869.9 247.7 L869.3 248.8"/><path d="M882.9 247.0 L885.7 245.7 L888.6 244.3 L891.5 243.0 L894.3 242.7 L897.2 242.4 L900.0 242.1 L902.8 241.8 L905.7 241.5 L907.3 243.4 L909.3 246.0 L912.4 245.4 L915.6 244.8 L918.7 244.2 L921.8 243.6 L925.6 246.4 L929.4 249.2 L933.2 252.0 L937.1 254.8"/><path d="M873.4 225.4 L874.7 225.0 L874.9 223.4 L875.8 222.4 L877.0 221.9 L878.3 221.6 L879.7 221.3 L881.2 221.1 L882.7 221.2 L884.0 221.4 L885.1 220.9 L885.7 219.6 L886.0 217.6 L886.6 216.1 L887.5 215.3 L888.6 214.6 L889.2 213.2 L890.5 213.0"/><path d="M890.5 213.0 L890.3 211.4 L889.3 210.7 L888.8 209.4 L888.7 208.1 L888.6 207.1 L888.1 206.1 L887.4 205.1 L886.8 204.0 L885.6 203.3 L883.7 202.9 L881.8 202.5 L881.0 201.3 L881.1 199.9 L881.8 198.5"/><path d="M890.5 213.0 L892.4 213.0 L893.0 212.0 L893.4 210.9 L893.8 210.0 L895.0 210.2 L896.0 210.9 L897.2 211.2 L898.8 210.8 L899.6 210.3 L899.3 210.3 L900.3 210.5 L901.7 210.7 L903.2 210.9 L904.8 211.2 L906.1 211.1 L907.3 210.1 L907.5 208.5 L907.1 207.0 L906.8 205.6 L907.3 204.5 L908.8 203.8 L909.8 202.9 L909.6 201.5 L909.0 199.9 L909.4 198.8 L910.9 198.2 L912.8 197.7 L913.8 196.8 L913.4 195.3 L912.9 193.7 L912.3 192.1 L912.2 190.1 L913.2 188.9 L914.9 188.9 L916.6 189.1 L918.2 189.0 L919.5 188.6 L920.6 188.0 L921.4 187.1 L922.0 186.1 L922.6 184.9 L923.1 183.7 L923.8 182.6 L924.7 181.8 L925.6 181.0 L926.0 179.8 L926.2 178.4 L927.0 177.5 L928.4 177.1 L929.9 176.8 L930.6 176.4 L930.6 176.4 L931.7 176.9"/><path d="M931.7 176.9 L932.4 178.0 L933.2 179.0 L933.9 180.3 L935.1 180.9 L936.5 180.9 L937.8 180.8 L939.2 180.6 L941.0 180.8 L942.2 182.2 L943.0 183.3 L943.6 184.4 L943.7 185.6 L942.9 187.1 L941.8 188.7 L941.8 190.4 L943.3 190.7 L944.7 190.6 L945.9 190.6 L947.2 190.7 L948.4 191.0 L949.5 191.4 L950.6 192.2"/><path d="M958.1 190.6 L962.0 190.5"/><path d="M931.7 176.9 L931.7 174.2 L930.5 174.0 L928.9 174.4 L927.2 175.1 L926.1 175.1 L925.2 174.6 L924.0 174.2 L922.7 173.7 L921.4 173.3 L920.1 173.7 L919.1 174.9 L918.3 176.1 L917.1 176.4 L915.9 176.6 L915.1 177.7 L914.7 179.7 L912.8 178.5"/><path d="M912.8 178.5 L912.1 174.8 L909.4 175.2 L906.6 175.7 L903.9 176.2 L901.2 176.6 L900.5 172.3 L899.8 168.0 L899.0 163.8 L898.4 159.9 L897.8 156.0 L897.2 152.2 L896.5 148.3 L895.9 144.4 L895.3 140.6"/><path d="M899.0 163.8 L898.6 164.9 L897.9 166.1 L897.3 167.2 L897.0 168.4 L897.4 169.7 L898.1 171.0 L898.5 172.2 L898.3 173.5 L897.8 174.7 L897.4 175.9 L896.5 176.7 L894.9 177.2 L893.5 177.8 L893.0 178.9 L892.9 180.2 L892.7 181.5 L892.8 183.0 L892.9 184.4 L892.9 185.8 L892.7 187.0 L892.0 188.0 L890.6 188.6 L888.6 189.0 L886.8 189.3 L885.9 190.2 L885.6 191.4 L885.2 192.6 L884.6 193.5 L884.0 194.2 L883.4 195.0 L882.6 196.0 L881.8 196.8 L881.4 196.9 L881.2 196.2 L880.0 195.8 L878.6 196.2 L876.9 197.4 L875.5 198.7 L874.7 199.5 L873.4 199.3 L872.2 198.7 L871.0 197.7 L869.9 196.7 L868.7 195.5 L867.6 194.6 L866.4 194.3 L865.1 194.8 L864.0 195.6 L862.6 195.6 L861.3 195.5 L860.0 195.3 L859.1 194.5 L858.3 193.4 L857.8 191.8 L855.0 190.5 L853.9 193.6 L855.0 194.6 L856.8 195.5 L858.0 197.0 L856.5 197.6 L854.7 196.7 L852.8 195.5 L851.3 195.0 L849.9 195.7 L848.7 197.5 L848.7 199.7 L849.0 201.4 L848.6 202.6 L847.7 203.5 L847.0 204.5 L846.6 205.7 L846.1 207.1 L845.3 208.0 L843.8 208.1 L842.3 208.1 L841.4 208.8 L840.8 210.3 L840.1 211.7 L838.8 211.8 L837.3 211.3 L836.0 211.0 L835.0 211.5 L833.7 212.6 L832.5 212.3 L831.3 210.5 L830.0 208.8 L828.3 208.7 L827.1 210.2 L826.4 212.0 L825.5 213.1 L824.4 213.4 L823.5 214.0 L823.9 215.1 L824.0 216.4 L823.4 217.6 L821.9 218.0 L820.3 218.2 L819.4 219.0 L819.4 220.6 L819.8 222.5 L819.0 223.7 L817.7 223.7 L816.3 223.4 L815.1 223.7 L814.1 224.4 L813.2 225.3 L812.2 225.9"/><path d="M912.1 174.8 L914.9 174.3 L917.7 173.8 L920.5 173.3 L923.2 172.8 L926.0 172.2 L928.8 171.7 L931.5 171.2 L934.3 170.6 L937.1 170.1 L939.8 169.5 L942.6 169.0 L945.4 168.4 L948.1 167.8 L950.9 167.2 L951.8 170.7 L952.8 174.1 L953.7 177.6 L954.7 181.0 L955.6 184.5 L959.1 183.8 L962.5 183.1"/><path d="M950.9 167.2 L952.5 165.1 L954.5 165.3"/><path d="M954.5 165.3 L955.7 164.7 L956.3 163.6 L957.0 162.6 L958.0 161.9 L959.5 161.7 L961.4 161.0 L961.8 158.4 L960.7 156.9 L960.3 155.6 L960.1 154.3 L958.8 153.9 L956.7 154.0 L955.0 153.4 L954.3 152.4 L954.1 151.1 L954.1 149.7 L954.5 148.4 L954.8 147.2 L955.0 146.0 L955.1 144.8 L955.1 143.5 L955.0 142.6 L955.0 142.8 L954.6 142.2 L954.1 141.0 L953.7 139.8 L953.2 138.5 L952.6 137.3 L951.6 136.6 L950.4 136.2 L949.3 135.6 L948.5 134.7"/><path d="M948.5 134.7 L945.9 135.3 L943.3 135.8 L940.7 136.4 L938.0 136.9 L935.4 137.5 L932.8 138.0 L930.1 138.5 L927.5 139.1 L924.9 139.6 L922.2 140.1 L919.6 140.6 L916.9 141.1 L914.3 141.6 L911.6 142.1 L909.0 142.5 L906.4 143.0 L903.7 143.5 L903.1 139.7"/><path d="M957.2 142.2 L960.2 143.2 L963.3 144.1 L966.4 145.1"/><path d="M968.9 144.5 L969.0 140.1 L968.4 136.6 L967.8 133.1 L967.2 129.7 L967.2 124.6 L967.1 119.5 L966.3 115.7 L965.4 112.0 L964.5 108.2"/><path d="M964.5 108.2 L962.9 108.2 L961.6 102.7 L960.9 99.2 L960.2 95.7 L959.5 92.2 L958.8 88.7"/><path d="M967.2 129.7 L970.0 129.0 L972.8 128.3 L975.7 127.6 L978.5 126.9 L981.3 126.1 L984.1 125.4 L985.4 130.3 L986.7 135.3"/><path d="M984.2 125.8 L988.5 124.7 L990.7 127.9 L993.0 131.1"/><path d="M967.1 119.5 L969.8 118.9 L972.5 118.4 L975.2 117.8 L978.1 117.2 L981.0 116.5 L983.9 115.9 L986.8 115.2 L990.9 111.6"/><path d="M975.2 117.8 L975.7 116.5 L976.1 115.1 L975.7 114.0 L975.2 112.8 L975.2 111.6 L975.6 110.3 L975.9 109.2 L975.8 108.3 L975.1 107.1 L974.4 105.8 L974.1 104.5 L974.0 103.3 L973.5 102.0 L972.7 100.6 L972.3 99.2 L972.8 97.9 L973.8 96.8 L975.1 95.9 L975.9 94.9 L976.1 93.7 L976.4 92.5 L977.1 91.5 L977.2 90.3 L977.0 89.1 L977.1 87.9 L977.0 86.6 L976.5 85.5 L976.5 84.2"/><path d="M991.3 108.4 L987.9 106.2 L986.8 102.8 L985.8 99.4 L984.7 96.1 L983.7 92.7 L982.6 89.3 L981.6 86.0 L980.5 82.6 L979.5 79.2"/><path d="M791.2 149.1 L793.9 149.0 L796.6 148.8 L799.2 148.6 L801.9 148.5 L804.6 148.3 L807.2 148.1 L809.9 147.9 L812.5 147.7 L815.2 147.5 L817.8 147.3 L820.5 147.0 L823.2 146.8 L825.8 146.6 L828.5 146.3"/><path d="M828.5 146.3 L828.2 142.8 L827.9 139.3 L827.6 135.8 L827.3 132.3 L827.0 128.7 L826.7 125.2 L826.3 121.7 L826.0 118.2 L826.5 114.4 L827.0 110.6 L827.4 106.8 L824.9 105.6"/><path d="M824.9 105.6 L823.4 105.8 L822.0 106.1 L821.0 106.8 L820.4 108.0 L819.8 109.1 L819.5 109.6 L819.9 108.8 L819.7 107.5 L818.9 106.5 L817.5 105.7 L816.2 104.9 L815.4 104.2 L814.7 103.3 L814.4 102.0 L814.7 100.3 L815.0 98.2 L813.6 96.3 L811.7 96.6 L810.5 97.4 L809.3 97.5 L808.0 97.4 L806.8 98.4 L805.6 98.8"/><path d="M805.6 98.8 L803.1 98.3 L800.6 97.7 L798.1 97.2 L795.6 96.7 L793.0 94.2 L790.3 91.8 L788.6 86.8 L787.0 81.8"/><path d="M824.2 157.2 L824.5 160.9 L824.8 164.6 L825.2 168.3 L825.5 172.0 L825.8 175.7 L826.2 179.4 L826.5 183.1 L826.8 186.8 L827.1 190.5"/><path d="M827.1 190.5 L827.3 191.8 L827.4 193.0 L827.3 194.3 L828.0 195.5 L829.1 196.8 L829.5 198.1 L829.1 199.4 L828.5 200.6 L827.8 202.0 L826.4 202.8 L825.2 203.5 L824.4 204.6 L824.2 205.9 L824.1 207.3 L824.3 208.6 L824.7 209.9 L824.7 211.2 L824.3 212.4 L823.5 213.6"/><path d="M824.2 157.2 L826.4 151.8 L828.5 146.3"/><path d="M856.6 191.8 L856.2 188.1 L855.8 184.4 L855.3 180.8 L854.9 177.1 L854.5 173.5 L854.0 169.8 L853.6 166.1 L853.2 162.5 L852.7 158.8 L852.3 155.2 L849.5 155.4 L846.7 155.7 L843.9 155.9 L841.1 156.1 L838.3 156.3 L835.4 156.5 L832.6 156.7 L829.8 156.9 L827.0 157.1 L824.2 157.2"/><path d="M852.3 155.2 L855.1 154.8 L858.0 154.3 L860.8 153.9 L863.6 153.4 L866.4 153.0 L869.7 150.1"/><path d="M468.5 26.0 L471.0 30.0 L480.0 32.5 L483.5 30.0 L484.0 24.0 L512.0 31.0 L587.0 47.5 L662.0 57.0 L744.5 60.0 L744.5 54.5 L748.0 55.0 L749.5 62.5 L768.0 65.5 L778.0 70.0 L785.5 69.0 L798.0 71.0 L808.0 67.0 L840.5 81.0 L848.0 86.0 L854.0 91.0 L858.0 94.0 L869.0 101.0 L873.0 110.0 L877.0 125.0 L874.0 140.5 L871.9 146.6 L875.9 151.9 L890.5 143.9 L895.5 140.5 L903.8 134.6 L909.1 130.6 L907.8 120.0 L908.0 119.0 L928.0 115.0 L933.0 105.0 L945.5 92.5 L976.8 85.0 L983.0 75.0 L986.8 51.0 L990.5 45.0 L999.0 44.0 L1004.0 46.0 L1010.5 64.0 L1015.5 69.0 L1019.0 74.0 L1015.5 80.0 L1008.0 87.5 L997.1 98.7 L993.4 106.1 L992.8 111.7 L994.0 115.4 L994.7 119.8 L998.4 121.0 L1002.1 120.4 L1005.2 123.5 L1004.6 127.2 L1002.1 129.7 L997.1 134.7 L994.7 130.9 L992.2 127.2 L990.9 129.7 L992.2 137.1 L987.2 139.6 L978.5 144.6 L968.6 152.0 L967.4 154.5 L969.9 160.0 L968.9 170.5 L964.9 178.5 L960.9 186.5 L959.6 197.1 L961.0 207.7 L968.9 226.3 L966.3 234.3 L957.0 242.3 L946.3 250.2 L941.0 258.2 L936.7 257.0 L931.0 268.4 L921.1 277.0 L915.4 285.5 L911.1 299.7 L912.6 308.2 L919.7 322.4 L928.2 333.8 L932.4 345.1 L938.1 356.5 L939.5 370.7 L936.7 379.2 L933.0 383.0 L922.5 389.0 L908.3 392.0 L906.9 390.6 L916.8 387.7 L928.2 382.0 L921.1 373.5 L914.0 362.2 L905.5 353.6 L899.8 342.3 L901.2 333.8 L894.1 325.2 L885.6 319.5 L877.0 318.1 L871.4 323.8 L865.7 321.0 L854.9 315.7 L848.9 316.4 L841.9 318.2 L833.7 320.5 L826.6 321.7 L823.1 324.1 L823.7 329.9 L822.0 336.3 L819.6 339.3 L817.3 336.3 L812.6 335.2 L807.9 338.1 L800.9 339.3 L793.9 336.9 L788.0 334.6 L782.2 332.8 L775.1 332.2 L770.4 331.1 L763.4 331.1 L754.4 336.2 L744.4 343.6 L734.5 348.6 L724.6 356.1 L720.2 362.6 L719.1 367.9 L721.3 375.3 L720.2 383.8 L712.8 381.7 L706.4 379.6 L700.0 376.4 L696.0 372.0 L693.6 366.0 L692.3 361.0 L688.6 357.3 L682.4 347.4 L677.4 337.4 L670.0 330.0 L666.7 328.0 L656.8 329.3 L646.8 337.9 L634.4 326.8 L629.5 314.4 L619.6 302.0 L609.6 293.3 L592.3 294.5 L579.9 298.2 L560.0 295.8 L548.6 290.4 L542.0 284.6 L534.5 281.0 L523.3 274.7 L516.0 268.5 L501.0 266.0 L488.6 263.5 L487.4 254.8 L486.0 245.0 L479.7 246.5 L474.8 238.7 L469.0 231.0 L460.2 228.0 L457.3 221.0 L453.4 209.5 L449.5 198.0 L450.5 190.0 L448.5 178.5 L446.0 166.0 L441.0 152.0 L441.0 141.0 L443.5 132.5 L446.5 115.0 L448.5 102.5 L456.0 90.0 L463.5 75.0 L467.0 57.5 L468.0 45.0 Z"/></g>
</g>
<g opacity="0.73">
<path d="M90.5 13.0 L94.5 18.8 L99.5 24.0 L103.0 22.5 L107.5 15.8 L160.0 48.0 L256.0 90.0 L336.0 114.0 L353.5 116.0 L355.0 112.5 L358.5 115.0 L358.5 120.0 L368.5 125.0 L378.5 130.0 L388.5 135.0 L403.5 139.0 L413.5 136.0 L421.0 141.0 L441.0 152.0 L453.5 166.0 L466.0 177.0 L470.0 191.0 L471.0 201.0 L467.0 213.5 L461.0 227.0 L463.5 229.8 L481.0 221.0 L487.1 220.5 L495.0 218.7 L501.3 215.1 L500.4 205.4 L523.5 202.4 L527.9 195.6 L538.5 184.1 L557.2 181.4 L574.0 179.7 L576.7 175.2 L581.1 172.6 L586.4 162.8 L587.3 151.3 L591.9 142.3 L594.0 145.5 L602.6 142.3 L605.7 146.6 L607.9 160.4 L611.1 165.7 L619.6 175.3 L617.4 181.7 L610.0 186.0 L602.6 190.2 L594.0 194.5 L587.7 205.1 L585.9 207.6 L586.8 213.4 L591.7 218.3 L596.6 220.2 L596.6 224.1 L589.8 230.0 L585.9 228.0 L582.9 224.1 L582.0 232.0 L564.4 237.8 L555.6 242.7 L556.6 248.5 L552.7 262.2 L546.4 269.3 L544.9 279.8 L541.9 285.1 L539.6 290.4 L538.8 296.4 L539.6 300.0 L545.2 312.2 L536.2 321.2 L520.6 330.0 L515.8 337.2 L507.8 339.6 L498.3 350.7 L483.9 363.5 L480.7 366.7 L477.5 377.8 L479.1 389.0 L483.9 400.2 L487.9 411.3 L492.7 430.3 L494.5 440.9 L492.7 456.9 L485.6 461.3 L473.2 464.9 L459.9 465.7 L460.8 463.1 L475.0 462.2 L481.2 458.7 L476.7 451.6 L471.4 440.9 L464.3 426.7 L459.9 417.9 L462.6 412.6 L460.8 405.5 L455.5 398.4 L446.6 388.6 L437.7 392.2 L430.6 393.9 L420.0 384.2 L404.6 384.0 L394.0 384.6 L386.5 384.6 L388.0 392.1 L385.0 400.2 L380.4 398.1 L371.4 399.6 L362.4 398.1 L356.3 392.1 L341.3 387.6 L327.7 386.1 L315.5 389.1 L302.8 395.5 L290.0 400.9 L283.6 407.2 L279.4 420.0 L280.4 430.6 L277.2 433.8 L266.6 428.5 L256.0 424.3 L253.8 417.9 L252.8 407.2 L245.3 392.3 L241.1 377.4 L234.7 371.1 L223.0 368.9 L215.5 373.2 L210.2 377.4 L203.8 376.4 L199.6 371.1 L196.4 362.6 L194.3 351.9 L190.0 345.5 L180.6 330.3 L177.6 327.3 L158.0 324.3 L156.5 328.8 L147.4 327.3 L120.3 318.2 L99.2 300.1 L81.0 286.6 L82.6 285.4 L67.4 280.3 L50.6 275.3 L50.6 265.2 L45.5 258.4 L40.4 244.9 L30.3 234.8 L21.9 228.1 L23.6 218.0 L20.2 207.9 L18.5 194.4 L21.9 189.3 L20.2 184.3 L18.5 170.8 L20.2 160.7 L18.5 150.6 L18.5 140.4 L21.9 130.3 L23.6 120.2 L33.7 110.1 L37.1 101.7 L39.0 99.0 L44.0 86.0 L57.5 72.5 L72.5 54.0 L77.5 46.0 L84.0 35.0 L86.0 20.0 Z" fill="rgb(184,184,184)"/>
<g fill="none" stroke="rgb(100,100,100)" stroke-width="1" shape-rendering="crispEdges" stroke-linejoin="round"><path d="M77.9 45.2 L79.0 45.9 L80.2 46.3 L81.0 47.2 L81.6 48.3 L82.2 49.4 L83.1 50.2 L84.2 50.9 L85.2 51.7 L85.8 52.8 L85.5 53.9 L84.9 54.9 L84.6 56.0 L84.5 57.3 L84.1 58.4 L83.4 59.6 L84.2 60.9 L86.4 60.4 L88.1 60.2 L88.6 61.4 L88.3 63.5 L88.8 65.4 L89.7 66.5 L90.8 66.9 L92.1 66.9 L93.4 66.9 L94.7 67.0 L96.0 67.0 L97.3 67.4 L98.0 68.3 L98.5 69.7 L99.4 70.6 L100.9 70.5 L102.2 70.4 L103.2 71.1 L104.0 72.3 L105.0 73.1 L106.2 73.3 L107.4 73.5 L108.6 74.1 L109.8 74.3 L111.0 74.3 L112.1 74.9 L113.2 76.0 L114.2 77.2 L115.1 78.1 L116.0 78.3 L117.5 77.5 L119.1 76.5 L120.5 76.2 L121.6 76.8"/><path d="M121.6 76.8 L124.0 78.1 L126.3 79.5 L128.7 80.8 L131.1 82.1 L133.5 83.4 L135.9 84.7 L138.3 85.9 L140.7 87.2"/><path d="M140.7 87.2 L140.4 85.8 L141.2 84.6 L142.0 83.5 L143.0 82.5 L142.5 81.0"/><path d="M142.5 81.0 L144.3 77.6 L146.2 74.1 L148.0 70.7 L149.8 67.3 L151.7 63.9 L153.5 60.5 L155.4 57.1 L157.2 53.7 L159.1 50.3 L161.0 46.9"/><path d="M140.7 87.2 L141.6 88.1 L141.3 89.6 L141.3 90.8 L141.4 92.0 L141.1 92.2 L140.4 92.3 L139.7 93.3 L139.1 94.2 L138.0 94.6 L136.9 95.2 L136.0 96.0 L135.0 96.8 L134.1 97.8 L133.7 99.3 L133.5 100.8 L132.6 101.5 L131.3 101.7 L130.3 102.2 L129.7 103.3 L128.9 104.4 L128.1 105.3 L127.7 106.7 L128.0 108.0 L128.8 108.8 L128.1 110.0 L126.7 111.1 L126.2 112.3 L127.0 113.7 L127.2 115.4 L125.9 116.2 L124.3 116.3"/><path d="M124.3 116.3 L122.5 119.8 L120.8 123.3 L119.0 126.8 L117.3 130.4 L115.5 133.9 L113.8 137.4 L112.0 141.0"/><path d="M39.0 100.2 L41.7 101.8 L44.3 103.5 L47.0 105.1 L49.6 106.8 L52.3 108.4 L55.0 110.0 L57.6 111.6 L60.3 113.1 L62.9 114.7 L65.6 116.2 L68.3 117.8 L71.0 119.3 L73.6 120.8 L76.3 122.3 L79.0 123.8 L81.7 125.3 L84.4 126.8 L87.2 128.2 L89.9 129.7 L92.7 131.2 L95.5 132.6 L98.2 134.0 L101.0 135.4 L103.7 136.8 L106.5 138.2 L109.3 139.6 L112.0 141.0 L114.8 142.3 L117.6 143.7 L120.4 145.0 L123.2 146.3 L126.0 147.6 L128.7 148.9 L131.5 150.2 L134.3 151.4 L137.1 152.7 L139.9 153.9 L142.7 155.2 L145.5 156.4 L148.3 157.6 L151.1 158.8 L153.9 160.0 L156.7 161.1 L159.5 162.3 L162.3 163.4 L165.1 164.6 L167.9 165.7 L170.7 166.8 L173.5 167.9"/><path d="M81.7 125.3 L79.8 128.7 L77.9 132.1 L76.1 135.6 L74.2 139.0 L72.4 142.5 L70.5 146.0 L68.7 149.4 L66.9 152.9 L65.1 156.4 L63.2 159.9 L61.4 163.4 L59.6 167.0 L61.0 171.1 L62.5 175.2 L64.0 179.3 L65.5 183.4 L67.1 187.5 L68.7 191.5 L70.3 195.6 L71.9 199.7 L73.6 203.7 L75.2 207.7 L77.0 211.8 L78.7 215.8 L80.5 219.8 L82.2 223.8 L84.1 227.8 L85.9 231.8 L87.8 235.7 L89.7 239.7 L91.6 243.6 L93.5 247.6 L95.5 251.5"/><path d="M95.5 251.5 L96.0 252.7 L95.9 253.9 L95.7 255.2 L95.5 256.4 L95.7 257.6 L95.7 258.8 L95.0 259.9 L93.9 260.7 L93.5 261.9 L93.2 263.1 L92.7 264.2 L92.2 265.2 L91.6 266.1 L91.0 267.2 L90.5 268.4 L89.8 269.4 L89.1 270.4 L88.7 271.6 L88.7 273.2 L88.6 274.7 L87.8 275.3 L86.3 275.6 L84.8 276.3 L84.1 277.3 L83.9 278.5 L83.6 279.7 L83.1 280.9 L82.5 281.9 L81.5 282.9 L82.0 284.3"/><path d="M95.5 251.5 L95.9 250.3 L96.4 249.2 L96.5 248.0 L96.8 246.8 L97.4 245.6 L97.9 244.5 L98.4 243.4 L98.8 242.2 L99.0 241.0 L99.2 239.8 L99.5 238.6 L99.9 237.5 L100.4 237.0 L101.4 237.4 L102.6 238.0 L103.6 238.5 L104.5 238.6 L105.9 238.3 L107.4 237.8 L108.5 238.3"/><path d="M108.5 238.3 L110.1 234.0 L111.8 229.7 L113.5 225.4 L114.9 221.9 L116.3 218.3 L117.7 214.7 L119.2 211.2 L120.6 207.6 L122.0 204.1 L123.5 200.6 L124.9 197.1 L126.4 193.5 L127.8 190.0 L129.3 186.5 L130.8 183.0 L132.2 179.5 L133.7 176.0 L135.2 172.5 L136.7 169.0 L138.2 165.6 L139.7 162.1 L141.2 158.6 L142.7 155.2"/><path d="M173.5 167.9 L174.8 164.4 L176.2 161.0 L177.5 157.5 L178.9 154.1 L180.3 150.6 L181.6 147.2 L183.0 143.8 L184.4 140.3 L185.8 136.9 L187.2 133.5 L188.6 130.1 L190.0 126.7 L192.4 127.6 L194.8 128.6 L197.2 129.6 L199.6 130.6 L202.0 131.5 L204.4 132.4 L206.9 133.4 L209.3 134.3 L211.7 135.2 L214.1 136.1 L216.5 137.0 L219.0 137.9 L221.4 138.8 L223.8 139.6 L226.2 140.5 L228.6 141.3 L231.1 142.2 L233.5 143.0 L235.9 143.8 L238.3 144.6 L240.8 145.4 L243.2 146.2 L245.6 147.0 L248.0 147.8 L250.5 148.5 L252.9 149.3 L255.3 150.1 L257.7 150.8"/><path d="M187.2 133.5 L186.3 132.6 L184.4 133.5 L182.9 133.8 L181.7 133.5 L180.5 133.1 L179.5 133.0 L178.9 133.0 L178.0 132.8 L176.8 132.9 L175.5 132.9 L174.0 132.1 L173.0 130.2 L172.5 128.3 L171.6 127.3 L170.2 127.5 L168.2 127.4 L166.8 126.5 L166.4 125.3 L166.9 123.7 L168.0 121.7 L168.8 120.2 L168.5 119.1 L167.4 118.2 L166.4 117.3 L165.7 116.3 L164.9 115.2 L164.1 114.2 L163.3 113.2 L162.6 112.2 L162.4 110.9 L162.9 109.5 L163.8 108.0 L164.4 106.5 L163.8 105.1 L161.9 104.6 L159.6 104.3 L158.7 102.3 L159.6 100.9 L161.0 100.4 L162.8 100.2 L164.4 99.7 L165.4 98.6 L165.8 97.3 L165.8 96.1 L165.7 94.8 L165.5 93.5 L165.0 92.1 L164.8 90.7 L165.3 89.8 L165.7 88.8 L165.7 87.6 L165.5 86.4 L165.5 85.2 L165.1 84.0 L164.0 83.1 L162.6 82.2 L161.7 81.2 L161.8 79.9 L162.5 78.4 L163.4 76.9 L163.5 75.6 L163.0 74.5 L162.3 73.5 L162.2 72.3 L163.2 71.1 L164.3 69.9 L164.0 68.7 L162.3 67.4 L161.0 66.2 L162.4 65.0"/><path d="M162.4 65.0 L164.1 61.6 L165.9 58.3 L167.7 54.9 L169.5 51.6"/><path d="M274.8 96.2 L273.7 99.7 L272.6 103.1 L271.5 106.6 L270.4 110.1 L269.3 113.5 L268.2 117.0 L267.1 120.5 L266.0 124.0 L264.9 127.4 L263.8 130.9 L262.7 134.4 L261.7 137.9 L260.3 142.2 L259.0 146.5 L257.7 150.8 L256.7 154.2 L255.7 157.7 L254.6 161.1 L253.6 164.5 L252.6 168.0 L251.6 171.4 L250.5 174.9 L249.5 178.3 L248.5 181.8 L247.5 185.2 L246.5 188.7 L245.5 192.2 L244.5 195.6 L243.6 199.1 L242.6 202.6 L241.6 206.0"/><path d="M173.5 167.9 L172.1 171.4 L170.8 174.8 L169.4 178.3 L168.1 181.8 L170.7 182.8 L173.4 183.8 L176.0 184.7 L178.6 185.7 L181.2 186.7 L183.9 187.6 L186.5 188.5 L189.1 189.5 L191.7 190.4 L194.4 191.3 L197.0 192.2 L199.6 193.1 L202.2 194.0 L204.9 194.8 L207.5 195.7 L210.1 196.6 L212.7 197.4 L215.4 198.2 L218.0 199.1 L220.6 199.9 L223.2 200.7 L225.9 201.5 L228.5 202.2 L231.1 203.0 L233.7 203.8 L236.4 204.6 L239.0 205.3 L241.6 206.0 L244.2 206.8 L246.8 207.5 L249.5 208.2 L252.1 208.9 L254.7 209.6 L257.3 210.3 L259.9 211.0 L262.6 211.6 L261.7 215.1 L260.8 218.6 L259.9 222.1 L259.1 225.5 L258.2 229.0 L257.4 232.5 L256.5 236.0 L255.6 239.5 L254.8 243.0 L254.0 246.5 L253.1 250.0 L252.3 253.4 L251.5 256.9 L250.6 260.4 L249.8 263.9 L249.0 267.5"/><path d="M189.1 189.5 L187.9 193.0 L186.7 196.4 L185.5 199.9 L184.3 203.4 L183.1 206.9 L181.9 210.4 L180.7 213.9 L179.5 217.4 L178.3 221.0 L177.1 224.5 L176.0 228.0 L174.8 231.5 L173.6 235.0 L172.5 238.6 L171.3 242.1 L170.2 245.7 L169.0 249.3 L167.8 253.0 L166.7 256.6 L165.5 260.3 L164.4 264.0 L163.2 267.7 L162.1 271.3 L161.0 275.0 L159.8 278.7 L158.7 282.4 L157.6 286.1 L156.5 289.8 L155.4 293.5 L154.3 297.2 L153.2 300.9 L152.1 304.6 L151.1 308.4 L150.0 312.1 L148.9 315.8 L147.9 319.6 L146.8 323.3 L145.8 327.0"/><path d="M113.5 225.4 L116.5 226.6 L119.5 227.7 L122.5 228.9 L125.5 230.0 L128.5 231.2 L131.4 232.3 L134.4 233.4 L137.4 234.5 L140.4 235.5 L143.4 236.6 L146.4 237.6 L149.3 238.7 L152.3 239.7 L155.3 240.7 L158.3 241.7 L161.3 242.7 L164.2 243.7 L167.2 244.7 L170.2 245.7 L173.0 246.6 L175.9 247.5 L178.7 248.4 L181.6 249.3 L184.4 250.1 L187.3 251.0 L190.1 251.8 L193.0 252.7 L195.8 253.5 L198.7 254.4 L201.5 255.2 L204.3 256.0 L207.2 256.8 L210.0 257.6 L212.9 258.3 L215.7 259.1 L218.5 259.9 L221.4 260.6 L224.2 261.4 L227.0 262.1 L229.9 262.8 L232.7 263.5 L235.5 264.2 L238.3 264.9 L241.9 265.8 L245.4 266.6 L249.0 267.5 L251.9 268.1 L254.7 268.8 L257.6 269.4 L260.5 270.0 L263.3 270.7 L266.2 271.3 L269.0 271.9 L271.9 272.5 L274.8 273.1 L277.6 273.7 L280.5 274.2 L283.3 274.8 L286.2 275.4 L289.0 275.9 L291.9 276.4 L294.8 277.0 L297.6 277.5 L300.5 278.0 L303.3 278.5 L306.2 279.0 L309.0 279.5 L311.9 280.0 L314.7 280.4 L317.5 280.9 L320.4 281.4 L323.2 281.8 L326.1 282.2 L328.9 282.7 L331.8 283.1"/><path d="M238.3 264.9 L237.5 268.4 L236.6 271.9 L235.8 275.5 L235.0 279.0 L234.1 282.5 L233.3 286.0 L232.5 289.5 L231.6 293.1 L230.8 296.6 L230.0 300.1 L229.2 303.7 L228.4 307.2 L227.6 310.7 L226.8 314.3 L226.0 317.8 L225.2 321.4 L224.4 324.9 L223.7 328.5 L222.9 332.0 L222.1 335.6 L219.0 334.9 L215.9 334.2 L212.8 333.5 L209.6 332.8 L206.5 332.1 L203.4 331.4 L200.2 330.7 L197.1 329.9 L194.0 329.2 L190.8 328.4 L187.7 327.7 L184.5 326.9 L181.4 326.1 L178.2 325.3"/><path d="M236.6 271.9 L239.5 272.6 L242.3 273.3 L245.1 273.9 L247.9 274.6 L250.8 275.2 L253.6 275.9 L256.4 276.5 L259.2 277.1 L262.0 277.7 L264.8 278.3 L267.7 278.9 L270.5 279.5 L269.7 283.4 L268.9 287.3 L268.1 291.1 L267.3 295.0 L266.5 298.9 L265.8 302.8 L265.0 306.7"/><path d="M265.0 306.7 L265.9 307.5 L266.1 309.3 L266.8 310.4 L267.5 311.2 L267.8 312.3 L268.5 313.1 L269.9 313.5 L271.4 313.7 L272.4 314.6 L273.2 315.8 L274.2 316.5 L275.6 316.6 L276.9 316.8 L277.8 317.6 L278.6 318.7 L279.8 319.2 L281.2 318.9 L282.7 318.5 L283.9 318.5 L285.1 319.0 L286.1 319.6 L287.0 320.6 L288.0 321.5 L289.2 321.6 L290.6 321.4 L291.7 321.8 L292.8 322.3 L294.0 322.5 L295.2 322.5 L296.2 322.2 L297.2 321.7 L298.4 321.5 L299.6 321.8 L300.9 322.6 L302.1 323.8 L302.9 324.9 L303.7 325.9 L304.7 326.8 L305.8 327.2 L307.2 327.4 L308.8 327.5 L310.2 327.9 L311.4 328.4 L312.6 328.2 L313.8 327.3 L314.9 325.9 L316.2 324.7 L317.7 324.6 L318.9 325.2 L319.8 326.3 L320.5 327.7 L321.2 329.0 L322.2 329.7 L323.4 330.1 L324.5 330.4 L325.8 330.5 L327.3 330.1 L328.7 329.7 L329.9 330.1 L330.7 331.2 L331.8 331.9"/><path d="M331.8 283.1 L331.2 286.6 L330.7 290.0 L330.7 293.9 L330.7 297.8 L330.7 301.7 L330.7 305.6 L330.2 309.1 L329.6 312.6 L329.0 316.1 L328.5 319.6 L327.9 323.0 L327.4 326.5 L326.8 330.0"/><path d="M331.8 331.9 L331.3 335.8 L330.8 339.6 L330.4 343.1 L329.9 346.6 L329.5 350.0 L329.1 353.5"/><path d="M329.1 353.5 L330.3 354.4 L330.0 355.8 L329.7 357.2 L330.0 358.3 L331.0 359.3 L331.7 360.3 L331.5 361.7 L331.4 362.9 L332.9 363.8 L335.4 364.5 L337.2 365.4 L337.7 367.1 L336.7 369.4 L334.5 370.5 L332.1 370.9 L330.7 371.6 L330.8 373.0 L331.3 374.5 L331.1 375.6 L330.7 376.7 L331.0 378.0 L332.0 379.4 L332.3 380.6 L331.2 381.9 L329.6 382.8 L328.8 383.7 L328.7 385.0 L327.7 385.9"/><path d="M259.1 225.5 L261.8 226.2 L264.6 226.9 L267.4 227.6 L270.1 228.2 L272.9 228.9 L275.6 229.5 L278.4 230.1 L281.2 230.7 L283.9 231.4 L286.7 232.0 L289.4 232.5 L292.2 233.1 L295.0 233.7 L297.7 234.3 L300.5 234.8 L303.2 235.4 L306.0 235.9 L308.7 236.4 L311.5 236.9 L314.2 237.5 L317.0 238.0 L319.7 238.4 L322.5 238.9 L325.2 239.4 L328.0 239.9 L330.7 240.3"/><path d="M261.7 137.9 L264.1 138.7 L266.6 139.4 L269.0 140.1 L271.5 140.9 L274.0 141.6 L276.4 142.3 L278.9 143.0 L281.4 143.7 L283.8 144.3 L286.3 145.0 L288.7 145.7 L291.2 146.3 L293.7 147.0 L296.1 147.6 L298.6 148.2 L301.1 148.9 L303.5 149.5 L306.0 150.1 L308.5 150.6 L310.9 151.2 L313.4 151.8 L315.9 152.4 L318.3 152.9 L320.8 153.5 L323.3 154.0 L325.7 154.5 L328.2 155.0 L330.7 155.6 L333.1 156.1"/><path d="M333.1 156.1 L335.3 154.8 L335.3 153.5 L334.6 152.4 L333.8 151.2 L333.4 150.0 L333.6 148.8 L333.8 147.6 L333.7 146.5 L333.7 145.3 L333.8 144.1 L333.8 142.9 L333.7 141.7 L333.6 140.4 L333.4 139.2 L332.9 138.0 L332.5 136.9 L333.2 135.6 L334.3 134.4 L334.7 133.2 L334.7 132.0 L334.8 130.8 L335.2 129.5 L335.4 128.4 L335.3 127.4 L334.8 126.1 L334.3 124.8 L334.5 123.6 L335.2 122.5 L335.7 121.3 L335.5 120.1 L335.3 118.8 L335.2 117.6 L334.8 116.3 L333.9 115.0 L333.4 113.7 L335.8 112.8"/><path d="M249.5 178.3 L252.1 179.1 L254.6 179.8 L257.2 180.5 L259.7 181.2 L262.3 181.9 L264.8 182.6 L267.4 183.3 L269.9 184.0 L272.5 184.7 L275.0 185.3 L277.6 186.0 L280.1 186.6 L282.7 187.3 L285.2 187.9 L287.8 188.5 L290.3 189.1 L292.9 189.7 L295.4 190.3 L298.0 190.9 L300.5 191.4 L303.0 192.0 L305.6 192.6"/><path d="M305.6 192.6 L307.8 191.2 L309.0 191.6 L310.1 192.1 L311.0 193.2 L311.7 194.5 L312.6 195.3 L313.7 195.7 L314.7 196.7 L315.6 198.1 L316.6 199.0 L317.8 199.0 L319.1 199.1 L320.5 199.4 L321.6 200.0 L322.4 201.0 L323.0 202.3 L323.5 203.5 L325.0 203.8"/><path d="M333.1 156.1 L332.8 160.6 L332.4 165.1 L331.7 168.6 L331.0 172.2 L330.3 175.7 L329.7 179.2 L329.0 182.8 L328.3 186.3 L327.6 189.9"/><path d="M327.6 189.9 L331.7 192.3 L331.4 193.6 L330.3 194.6 L329.1 195.6 L328.1 196.6 L327.5 197.7 L327.4 198.9 L327.2 200.2 L326.7 201.4 L325.8 202.6 L325.0 203.8"/><path d="M325.0 203.8 L327.4 204.6 L326.8 206.0 L325.6 207.4 L324.8 208.8 L324.9 210.0 L325.7 211.1 L326.6 212.2 L326.4 213.5 L325.6 214.9 L325.5 216.2 L326.6 217.2 L327.9 218.1 L328.3 219.3 L328.4 220.6 L328.8 221.9 L329.1 223.2 L328.6 224.3 L328.0 225.4 L328.5 226.6 L328.9 227.8 L328.2 229.0 L327.3 230.3 L327.5 231.4 L328.9 232.2 L330.3 232.9 L331.3 233.9 L331.6 235.1 L331.5 236.4 L331.6 237.7 L331.6 239.0 L331.2 240.5 L330.7 241.9 L330.9 243.1 L331.5 244.2 L332.0 245.3 L332.1 246.6 L332.4 247.8 L332.9 248.9 L333.5 250.0 L333.9 251.2 L334.3 252.3 L335.1 253.3 L336.3 254.0"/><path d="M336.3 254.0 L335.8 257.6 L335.2 261.3 L334.6 264.9 L334.0 268.5 L333.5 272.2 L332.9 275.8 L332.3 279.4 L331.8 283.1"/><path d="M327.6 189.9 L330.2 190.4 L332.8 190.9 L335.5 191.3 L338.1 191.8 L340.7 192.3 L343.3 192.7 L345.9 193.2 L348.5 193.6 L351.1 194.0 L353.8 194.4 L356.4 194.9 L359.0 195.3 L361.6 195.6 L364.2 196.0 L366.8 196.4 L369.4 196.8 L372.1 197.1 L374.7 197.5 L377.3 197.8 L379.9 198.1"/><path d="M379.9 198.1 L379.8 196.9 L380.1 195.7 L380.0 194.5 L379.0 193.7 L377.9 193.1 L376.9 192.3 L375.6 191.8 L374.2 191.3 L373.3 190.4 L373.2 188.9 L373.5 187.2 L373.4 185.8 L372.9 184.7 L372.4 183.5 L372.3 182.1 L372.3 180.1 L371.6 178.2 L370.7 177.4 L368.9 178.1 L366.9 179.0 L366.4 177.9 L367.8 176.9 L369.5 176.1 L370.3 175.0 L369.8 173.6 L368.6 172.1 L368.3 170.8 L369.6 169.7 L370.9 168.2 L370.7 167.0 L369.0 166.0 L366.9 164.6 L367.0 161.9 L368.5 160.8 L370.1 161.2 L371.9 161.8 L373.3 161.8 L374.2 160.9"/><path d="M374.2 160.9 L374.7 157.1 L375.3 153.4 L378.4 152.2 L381.4 151.0 L384.5 149.7 L388.0 148.1 L391.5 146.5 L394.6 144.4 L397.7 142.4 L400.8 140.3 L403.8 138.2"/><path d="M379.9 198.1 L379.9 199.4 L379.8 200.6 L380.5 201.8 L380.5 203.0 L379.5 204.2 L378.8 205.8 L379.4 207.1 L380.2 208.0 L380.6 209.2 L380.6 210.6 L380.9 211.9 L381.8 212.8 L383.3 213.4 L385.3 213.4 L387.1 213.5 L388.1 214.2 L388.3 215.7 L388.7 217.2 L389.0 218.7 L389.3 220.0 L388.9 221.2 L388.2 222.4 L387.5 223.6 L386.7 224.8 L386.2 226.1 L385.2 226.8 L383.5 226.8 L382.0 226.6 L380.9 227.0 L379.9 227.8 L379.2 228.1 L379.0 228.9 L378.8 230.1 L378.7 231.3 L378.3 232.5 L377.7 233.6 L377.0 234.7 L376.5 235.9 L375.9 237.0 L375.0 237.9 L373.8 238.5 L372.6 239.2 L372.6 240.7"/><path d="M327.3 231.5 L330.0 232.0 L332.6 232.4 L335.3 232.8 L337.9 233.3 L340.6 233.7 L343.2 234.1 L345.9 234.5 L348.5 234.9 L351.2 235.3 L353.8 235.7 L356.4 236.0 L359.1 236.4 L361.7 236.7 L364.4 237.1 L367.0 237.4 L369.6 237.8"/><path d="M369.6 237.8 L371.4 237.9 L372.3 239.0 L372.6 240.7"/><path d="M372.6 240.7 L370.9 241.6 L370.4 242.7 L370.9 244.0 L371.7 245.4 L372.0 246.7 L371.5 247.8 L370.9 249.5 L370.2 251.2 L370.2 252.6 L371.0 253.6 L372.6 254.1 L374.9 254.3 L376.7 254.6 L377.6 255.4 L377.9 256.6 L378.4 257.8 L378.9 258.9 L379.2 260.1 L379.3 261.5 L379.8 262.6 L381.0 263.3 L382.2 263.9 L383.0 264.9 L383.4 266.2 L383.4 267.6 L383.7 268.8 L384.1 269.9 L384.8 271.1 L386.1 272.1 L387.3 273.1 L387.3 273.9 L386.8 274.6 L386.8 275.7 L387.2 276.9 L387.1 278.5 L386.6 280.5 L386.4 282.2 L386.8 282.8 L387.4 283.4 L388.0 284.5 L388.5 285.6 L389.1 286.7 L390.1 287.6 L391.3 288.5 L392.7 289.4 L392.9 291.0 L391.9 292.0 L390.7 292.7 L389.4 293.2 L388.1 293.8 L387.1 294.6 L386.4 295.8 L386.0 297.1 L385.8 298.3 L385.9 299.7 L386.6 301.3 L386.7 302.7 L385.8 303.6 L384.0 304.1 L382.7 304.7 L382.3 305.9 L382.3 307.3 L381.8 308.4 L381.1 309.3 L380.5 310.4 L380.4 311.8 L380.1 313.0 L379.5 314.0 L378.6 315.0 L378.1 316.0 L377.9 317.3 L377.7 318.6 L376.9 319.6 L375.6 320.2 L374.1 320.7 L373.0 321.4 L372.3 322.4 L371.7 323.5 L371.2 324.6 L370.7 325.7 L369.7 326.5 L368.8 327.3 L368.6 328.7 L369.3 330.4 L369.8 331.9 L369.2 333.0 L367.9 333.7 L366.4 334.4 L365.4 335.3 L365.1 336.5 L365.4 337.9 L365.6 339.2 L365.6 340.4 L365.7 341.7 L365.7 342.8 L365.2 343.7 L364.4 345.0 L364.3 346.3 L365.3 347.3 L366.0 348.4 L366.1 349.7 L365.7 351.0 L365.4 352.3 L365.3 353.7 L364.7 354.8 L363.7 355.6 L362.6 356.3 L361.6 357.1 L360.4 357.9 L359.0 358.6 L357.8 359.3 L357.2 360.4 L357.3 361.8 L358.1 363.5 L359.2 365.1 L359.7 366.4 L358.8 367.5 L356.9 368.2 L355.1 369.0 L356.5 370.6"/><path d="M356.5 370.6 L359.7 370.9 L362.8 371.2 L366.0 371.5 L369.2 371.7 L372.4 372.0 L375.5 372.3 L378.7 372.5"/><path d="M378.7 372.5 L380.9 373.9 L380.9 375.2 L379.9 376.4 L378.0 377.7 L376.1 379.0 L375.8 380.6 L377.2 381.8 L379.0 382.8 L379.4 384.0"/><path d="M384.9 303.4 L381.2 303.0 L377.4 302.7"/><path d="M377.4 302.7 L379.0 302.1 L378.7 300.6 L378.1 299.0 L378.3 297.7 L379.4 296.8 L380.5 296.0"/><path d="M380.5 296.0 L377.6 295.7 L374.7 295.4 L371.8 295.1 L368.8 294.8 L365.9 294.5 L363.0 294.2 L360.1 293.8 L357.1 293.5 L354.2 293.1 L351.3 292.8 L348.3 292.4 L345.4 292.0 L342.5 291.7 L339.5 291.3 L336.6 290.9 L333.7 290.4 L330.7 290.0"/><path d="M330.8 339.6 L333.8 340.0 L336.9 340.3 L339.9 340.7 L343.0 341.1 L346.0 341.4 L349.0 341.8 L352.1 342.1 L355.1 342.4 L358.2 342.7 L361.2 343.0 L364.2 343.3"/><path d="M376.9 316.6 L379.8 316.9 L382.8 317.1 L385.8 317.4 L388.8 317.6 L391.7 317.9 L394.7 318.1 L397.7 318.4 L400.6 318.6 L403.6 318.8 L406.5 319.0 L409.5 319.2 L412.4 319.4 L415.3 319.5 L418.3 319.7 L421.2 319.9 L424.1 320.0 L427.1 320.2 L430.0 320.3 L433.0 320.4 L435.9 320.6 L438.8 320.7 L441.8 320.8 L444.7 320.9 L448.1 321.0 L451.5 321.1 L454.8 321.2 L458.2 321.3"/><path d="M400.6 318.6 L401.7 320.0 L401.2 323.6 L400.6 327.2 L400.1 330.7 L399.6 334.3 L399.1 337.9 L398.6 341.5 L398.0 345.0 L397.5 348.6 L397.0 352.2 L396.5 355.8 L396.0 359.3 L395.4 362.9 L394.9 366.5 L394.4 370.1 L393.9 373.6 L393.9 377.1 L393.8 380.6 L393.8 384.0"/><path d="M430.0 320.3 L430.4 324.0 L430.9 327.8 L431.3 331.5 L431.7 335.2 L432.2 339.0 L432.6 342.7 L433.1 346.4 L433.6 350.1"/><path d="M433.6 350.1 L435.1 351.0 L435.1 352.3 L435.0 353.6 L435.5 354.8 L436.4 355.8 L436.9 357.1 L436.8 358.6 L436.6 359.9 L436.7 361.2 L436.6 362.5 L435.5 363.5 L434.4 364.6 L434.1 365.8 L434.1 367.1 L433.6 368.3 L433.1 369.6 L432.4 371.0 L431.3 372.4 L430.7 373.7 L431.5 374.9 L434.7 375.7"/><path d="M434.7 375.7 L431.6 375.6 L428.6 375.5 L425.5 375.4 L422.4 375.2 L419.3 375.1 L416.3 374.9 L413.2 374.8 L410.1 374.6 L407.0 374.4 L404.0 374.3 L404.3 379.3 L404.6 384.3"/><path d="M434.7 375.7 L436.2 379.9 L439.4 380.2 L442.5 380.5 L445.6 380.8 L448.8 381.1 L451.9 381.3 L455.1 381.6 L458.2 381.9 L461.4 382.1 L464.5 382.4 L467.7 382.7 L469.5 384.8 L473.0 382.7 L476.6 380.7"/><path d="M458.2 321.3 L458.1 322.6 L457.3 323.5 L455.7 324.1 L454.3 325.8 L455.6 327.5 L456.7 328.1 L457.6 328.9 L458.4 329.8 L459.6 330.5 L460.4 331.3 L461.0 332.4 L462.0 333.2 L463.6 333.4 L464.8 333.9 L464.9 335.4 L464.6 337.3 L464.7 338.8 L465.5 339.7 L467.1 340.0 L468.9 340.1 L469.8 340.9 L469.7 342.5 L469.1 344.2 L469.4 345.4 L471.0 345.9 L473.1 346.1 L474.5 346.7 L474.7 347.9 L474.6 349.4 L474.8 350.7 L475.3 351.8 L475.7 353.0 L476.0 354.2 L476.6 355.3 L477.6 356.2 L478.8 356.9 L479.4 358.0 L479.9 359.2 L480.7 360.1 L481.9 360.6 L483.3 361.1 L483.7 362.4"/><path d="M387.7 296.7 L391.0 297.0 L394.2 297.2 L397.4 297.5 L400.6 297.7 L403.8 298.0 L404.0 295.5 L406.8 295.8 L409.7 296.1 L412.5 296.4 L415.3 296.7 L418.2 297.0 L421.0 297.3 L423.8 297.5 L426.6 297.8 L429.5 297.9 L432.3 298.1 L435.2 298.3 L438.0 298.4 L440.9 298.6 L443.7 298.7 L446.6 298.8 L449.4 299.0 L452.3 299.1 L455.1 299.2 L457.9 299.2 L460.7 299.3 L463.5 299.3 L466.3 299.4 L469.1 299.4 L471.9 299.4 L474.7 299.5 L477.5 299.5 L480.3 299.6 L483.0 299.6 L485.8 299.6 L488.6 299.6 L491.4 299.6 L494.1 299.6 L496.9 299.6 L499.7 299.6 L502.5 299.6 L505.3 299.6 L508.0 299.5 L510.8 299.5 L513.6 299.5 L516.4 299.4 L519.1 299.3 L521.9 299.3 L524.7 299.2 L527.5 299.1 L530.3 299.0 L533.0 298.9 L535.8 298.8 L538.6 298.7"/><path d="M474.7 299.5 L473.2 300.0 L472.1 300.7 L470.8 301.4 L470.0 302.4 L469.7 303.6 L470.0 304.8 L469.9 305.9 L469.0 306.8 L468.1 307.8 L467.1 308.9 L465.8 309.0 L464.4 308.1 L462.8 307.0 L461.4 306.4 L459.9 306.9 L459.0 308.3 L458.2 309.3 L457.3 310.3 L457.0 311.9 L457.1 314.2 L456.7 315.9 L455.3 316.3 L453.5 315.9 L451.8 315.1 L450.0 314.1 L448.4 313.6 L447.3 314.1 L445.9 315.2 L444.6 316.5 L443.6 317.5 L443.7 318.9 L444.7 320.9"/><path d="M458.2 321.3 L461.2 320.4 L464.3 319.5 L467.3 318.7 L470.1 318.8 L472.9 319.0 L475.7 319.2 L478.5 319.3 L481.3 319.4 L482.7 321.5 L484.2 324.3 L487.3 324.2 L490.5 324.1 L493.6 324.0 L496.8 323.9 L500.0 327.2 L503.3 330.5 L506.6 333.7 L509.9 337.0"/><path d="M452.3 299.1 L452.8 297.5 L453.7 296.7 L454.6 295.7 L455.5 294.9 L456.8 294.7 L458.5 295.1 L460.0 295.2 L461.1 294.7 L462.0 293.9 L463.1 293.3 L464.2 292.9 L465.3 292.4 L466.4 291.6 L467.3 290.6 L468.4 290.1 L469.8 290.1 L471.0 289.8"/><path d="M471.0 289.8 L471.8 287.6 L470.5 287.1 L469.2 286.6 L468.4 285.8 L467.8 284.8 L467.4 283.7 L467.1 282.5 L466.6 281.4 L465.9 280.4 L465.1 279.4 L464.6 278.2 L464.5 277.0 L464.8 275.8 L464.7 274.6"/><path d="M471.0 289.8 L473.7 291.2 L473.9 289.6 L473.9 287.8 L474.9 286.8 L476.1 287.6 L476.7 288.7 L477.4 289.8 L478.1 290.8 L479.2 291.9 L480.7 291.5 L481.5 290.2 L482.3 288.6 L483.2 287.7 L484.6 288.0 L486.2 288.8 L487.8 289.0 L488.3 287.7 L488.7 286.5 L489.3 285.5 L489.8 284.3 L490.3 283.2 L491.0 282.3 L491.6 281.2 L492.2 280.2 L492.9 279.2 L493.7 278.3 L494.4 277.3 L495.5 276.6 L496.9 276.1 L498.0 275.3 L498.1 274.3 L498.2 272.9 L498.9 271.8 L500.4 271.9 L502.3 272.5 L503.5 272.1 L503.7 270.2 L503.7 268.1 L504.3 266.9 L505.6 266.6 L507.0 266.5 L507.9 265.8 L508.5 264.5 L509.1 263.3 L509.9 262.5 L511.3 262.4 L513.0 262.6 L514.4 262.3 L515.2 261.4 L515.7 260.5 L515.8 260.8 L516.8 261.5"/><path d="M516.8 261.5 L518.3 261.9 L519.4 262.6 L519.7 263.8 L520.1 265.3 L520.9 266.6 L522.1 267.0 L523.8 266.5 L525.6 267.2 L526.0 268.7 L526.0 269.9 L526.3 271.2 L526.4 272.4 L526.3 273.7 L525.8 274.6 L526.1 275.7 L526.7 277.2 L527.5 278.5 L528.6 279.2 L529.8 279.6 L531.1 279.8 L532.9 279.0"/><path d="M540.5 278.6 L544.3 279.0"/><path d="M516.8 261.5 L515.9 260.6 L515.5 258.9 L514.4 258.4 L512.7 258.5 L511.3 259.0 L510.4 260.1 L509.2 260.5 L507.9 259.8 L506.6 258.1 L505.0 256.1 L503.3 255.4 L502.0 255.9 L501.1 257.1 L500.3 258.7 L499.4 260.3 L498.1 260.2"/><path d="M498.1 260.2 L498.0 256.4 L495.2 256.5 L492.5 256.5 L489.7 256.5 L487.0 256.6 L487.0 252.3 L487.0 248.1 L486.9 243.9 L486.9 240.1 L486.9 236.3 L486.9 232.5 L486.9 228.7 L486.8 224.9 L486.8 221.1"/><path d="M486.9 243.9 L486.4 245.0 L486.0 246.2 L485.4 247.2 L484.2 248.2 L482.9 249.0 L482.3 250.1 L482.9 251.4 L483.9 252.9 L483.9 254.4 L482.7 254.9 L481.2 255.2 L480.2 256.0 L479.6 257.1 L478.7 257.9 L477.6 258.6 L477.1 259.7 L477.0 261.2 L476.3 262.2 L475.0 262.6 L473.8 263.2 L473.0 264.2 L472.4 265.2 L471.9 266.4 L471.5 267.6 L471.3 268.9 L471.5 270.6 L471.7 272.3 L471.1 274.0 L469.6 274.8 L468.1 274.7 L466.6 274.6 L465.1 274.6 L464.0 274.1 L462.8 273.8 L461.4 274.0 L460.0 274.1 L459.0 273.8 L458.2 273.2 L457.3 272.0 L456.3 270.6 L455.3 269.9 L454.0 270.1 L452.7 270.3 L451.5 270.2 L450.3 270.0 L449.2 269.6 L448.2 268.8 L447.6 267.9 L446.7 267.3 L445.5 266.8 L444.5 266.1 L443.5 265.5 L442.3 265.0 L441.3 264.3 L441.2 265.2 L441.7 266.4 L442.0 267.6 L441.7 269.1 L440.5 270.0 L439.4 270.9 L438.4 271.8 L437.2 272.1 L435.9 271.6 L434.6 271.2 L433.8 272.0 L433.3 273.3 L432.8 274.4 L431.8 275.1 L430.7 275.7 L429.8 276.7 L429.0 278.0 L428.2 279.0 L427.2 279.7 L425.8 279.9 L424.2 279.7 L422.7 279.0 L421.2 278.0 L419.8 277.1 L418.5 277.0 L417.8 277.6 L417.1 278.4 L415.8 279.2 L414.6 279.4 L413.4 278.9 L412.3 278.0 L410.9 277.2 L409.4 276.9 L408.2 277.1 L407.1 278.0 L406.1 279.6 L405.8 280.8 L405.8 281.6 L404.9 282.6 L404.8 283.9 L405.0 285.8 L404.8 287.6 L403.9 288.4 L402.4 288.5 L400.7 288.9 L399.2 288.9 L397.9 288.8 L396.7 288.7 L395.5 289.1 L394.5 289.8 L393.4 290.0 L392.2 290.1"/><path d="M498.0 256.4 L500.8 256.4 L503.6 256.3 L506.4 256.3 L509.2 256.2 L511.9 256.1 L514.7 256.0 L517.5 255.9 L520.3 255.8 L523.1 255.7 L525.9 255.6 L528.7 255.4 L531.5 255.3 L534.3 255.2 L537.0 255.0 L537.4 258.5 L537.8 261.9 L538.2 265.4 L538.6 268.8 L539.0 272.3 L542.5 272.2 L546.0 272.0"/><path d="M537.0 255.0 L539.0 253.2 L540.9 253.7"/><path d="M540.9 253.7 L541.9 252.9 L543.3 252.8 L544.7 252.6 L545.9 252.2 L547.0 251.7 L548.7 250.3 L549.1 247.6 L548.8 245.8 L548.2 244.8 L546.9 244.1 L545.7 243.6 L545.0 242.7 L545.0 241.5 L545.0 240.3 L544.5 239.4 L544.2 238.4 L544.4 237.2 L545.1 236.2 L546.2 235.4 L547.8 234.8 L549.4 234.0 L549.8 231.1 L547.5 229.7 L545.3 229.8 L543.6 229.5 L542.8 228.7 L542.7 227.2 L542.8 225.4 L542.5 224.0 L541.6 223.2 L539.7 223.4"/><path d="M539.7 223.4 L537.0 223.5 L534.4 223.7 L531.7 223.8 L529.1 224.0 L526.4 224.1 L523.8 224.2 L521.1 224.4 L518.5 224.5 L515.8 224.6 L513.2 224.7 L510.5 224.8 L507.9 224.8 L505.2 224.9 L502.6 225.0 L499.9 225.0 L497.3 225.1 L494.6 225.1 L494.6 221.4"/><path d="M547.0 231.8 L549.9 233.2 L552.8 234.6 L555.7 236.0"/><path d="M558.1 235.8 L558.9 231.6 L558.8 228.1 L558.8 224.7 L558.7 221.2 L559.4 216.3 L560.1 211.4 L559.8 207.6 L559.5 203.8 L559.2 200.1"/><path d="M559.2 200.1 L557.7 199.8 L557.2 194.3 L557.0 190.8 L556.8 187.3 L556.7 183.8 L556.5 180.4"/><path d="M558.7 221.2 L561.5 221.0 L564.4 220.7 L567.3 220.4 L570.2 220.1 L573.1 219.8 L575.9 219.5 L576.5 224.5 L577.0 229.4"/><path d="M576.0 219.9 L580.3 219.5 L582.0 222.9 L583.8 226.3"/><path d="M560.1 211.4 L562.8 211.2 L565.5 211.0 L568.3 210.9 L571.2 210.7 L574.1 210.5 L577.1 210.2 L580.0 210.0 L584.6 207.1"/><path d="M568.3 210.9 L568.4 209.7 L568.3 208.5 L568.4 207.3 L569.0 206.0 L569.3 204.8 L569.5 203.6 L569.8 202.6 L570.8 201.9 L571.9 201.1 L572.6 200.0 L572.5 198.7 L571.7 197.3 L570.7 195.8 L570.1 194.4 L570.2 193.1 L570.9 192.1 L571.6 191.1 L571.8 189.9 L571.6 188.4 L571.7 187.1 L572.4 186.1 L573.5 185.5 L574.2 184.5 L574.4 183.3 L574.1 182.1 L573.1 180.9 L571.7 179.6 L574.4 178.5"/><path d="M585.5 204.1 L582.4 201.4 L581.8 198.0 L581.3 194.5 L580.7 191.1 L580.2 187.7 L579.6 184.3 L579.1 180.8 L578.5 177.4 L578.0 174.0"/><path d="M384.0 212.6 L386.6 212.9 L389.2 213.2 L391.9 213.5 L394.5 213.8 L397.1 214.0 L399.8 214.3 L402.4 214.6 L405.0 214.8 L407.7 215.0 L410.3 215.3 L412.9 215.5 L415.6 215.7 L418.2 215.9 L420.9 216.1"/><path d="M420.9 216.1 L421.1 212.7 L421.4 209.2 L421.7 205.8 L422.0 202.3 L422.2 198.9 L422.5 195.4 L422.8 192.0 L423.1 188.6 L424.2 185.0 L425.3 181.3 L426.3 177.7 L424.0 176.2"/><path d="M424.0 176.2 L421.1 173.6 L420.1 174.3 L419.6 175.8 L419.4 177.8 L419.2 179.9 L417.3 180.8 L417.3 178.7 L417.7 177.4 L417.2 176.2 L417.1 175.0 L417.7 173.7 L418.2 172.1 L417.9 170.7 L417.3 169.6 L416.5 168.7 L415.1 167.8 L413.3 168.2 L412.0 169.5 L410.7 169.9 L409.6 169.3 L408.6 168.3 L407.6 167.0 L406.5 166.3"/><path d="M406.5 166.3 L404.2 165.4 L401.9 164.4 L399.6 163.5 L397.2 162.5 L395.1 159.7 L392.9 156.9 L392.2 151.7 L391.5 146.5"/><path d="M414.9 225.9 L414.6 229.5 L414.3 233.1 L414.1 236.7 L413.8 240.3 L413.5 244.0 L413.2 247.6 L413.0 251.2 L412.7 254.8 L412.4 258.4"/><path d="M412.4 258.4 L409.7 259.3 L409.5 260.6 L411.4 262.0 L413.6 263.5 L414.5 265.0 L413.8 266.2 L412.2 267.1 L410.4 268.1 L409.5 268.8 L409.3 269.8 L409.6 271.6 L409.7 273.2 L409.3 274.4 L408.4 275.1 L407.6 275.7 L406.8 276.7 L405.9 277.7 L405.1 278.7 L405.2 280.1"/><path d="M414.9 225.9 L417.9 221.0 L420.9 216.1"/><path d="M441.1 264.2 L441.3 260.6 L441.4 257.1 L441.6 253.5 L441.7 249.9 L441.9 246.3 L442.0 242.7 L442.2 239.2 L442.4 235.6 L442.5 232.0 L442.7 228.4 L439.9 228.2 L437.1 228.0 L434.3 227.8 L431.6 227.5 L428.8 227.3 L426.0 227.0 L423.2 226.7 L420.4 226.5 L417.7 226.2 L414.9 225.9"/><path d="M442.7 228.4 L445.5 228.5 L448.3 228.5 L451.1 228.5 L454.0 228.5 L456.8 228.5 L460.4 226.3"/><path d="M90.5 13.0 L94.5 18.8 L99.5 24.0 L103.0 22.5 L107.5 15.8 L160.0 48.0 L256.0 90.0 L336.0 114.0 L353.5 116.0 L355.0 112.5 L358.5 115.0 L358.5 120.0 L368.5 125.0 L378.5 130.0 L388.5 135.0 L403.5 139.0 L413.5 136.0 L421.0 141.0 L441.0 152.0 L453.5 166.0 L466.0 177.0 L470.0 191.0 L471.0 201.0 L467.0 213.5 L461.0 227.0 L463.5 229.8 L481.0 221.0 L487.1 220.5 L495.0 218.7 L501.3 215.1 L500.4 205.4 L523.5 202.4 L527.9 195.6 L538.5 184.1 L557.2 181.4 L574.0 179.7 L576.7 175.2 L581.1 172.6 L586.4 162.8 L587.3 151.3 L591.9 142.3 L594.0 145.5 L602.6 142.3 L605.7 146.6 L607.9 160.4 L611.1 165.7 L619.6 175.3 L617.4 181.7 L610.0 186.0 L602.6 190.2 L594.0 194.5 L587.7 205.1 L585.9 207.6 L586.8 213.4 L591.7 218.3 L596.6 220.2 L596.6 224.1 L589.8 230.0 L585.9 228.0 L582.9 224.1 L582.0 232.0 L564.4 237.8 L555.6 242.7 L556.6 248.5 L552.7 262.2 L546.4 269.3 L544.9 279.8 L541.9 285.1 L539.6 290.4 L538.8 296.4 L539.6 300.0 L545.2 312.2 L536.2 321.2 L520.6 330.0 L515.8 337.2 L507.8 339.6 L498.3 350.7 L483.9 363.5 L480.7 366.7 L477.5 377.8 L479.1 389.0 L483.9 400.2 L487.9 411.3 L492.7 430.3 L494.5 440.9 L492.7 456.9 L485.6 461.3 L473.2 464.9 L459.9 465.7 L460.8 463.1 L475.0 462.2 L481.2 458.7 L476.7 451.6 L471.4 440.9 L464.3 426.7 L459.9 417.9 L462.6 412.6 L460.8 405.5 L455.5 398.4 L446.6 388.6 L437.7 392.2 L430.6 393.9 L420.0 384.2 L404.6 384.0 L394.0 384.6 L386.5 384.6 L388.0 392.1 L385.0 400.2 L380.4 398.1 L371.4 399.6 L362.4 398.1 L356.3 392.1 L341.3 387.6 L327.7 386.1 L315.5 389.1 L302.8 395.5 L290.0 400.9 L283.6 407.2 L279.4 420.0 L280.4 430.6 L277.2 433.8 L266.6 428.5 L256.0 424.3 L253.8 417.9 L252.8 407.2 L245.3 392.3 L241.1 377.4 L234.7 371.1 L223.0 368.9 L215.5 373.2 L210.2 377.4 L203.8 376.4 L199.6 371.1 L196.4 362.6 L194.3 351.9 L190.0 345.5 L180.6 330.3 L177.6 327.3 L158.0 324.3 L156.5 328.8 L147.4 327.3 L120.3 318.2 L99.2 300.1 L81.0 286.6 L82.6 285.4 L67.4 280.3 L50.6 275.3 L50.6 265.2 L45.5 258.4 L40.4 244.9 L30.3 234.8 L21.9 228.1 L23.6 218.0 L20.2 207.9 L18.5 194.4 L21.9 189.3 L20.2 184.3 L18.5 170.8 L20.2 160.7 L18.5 150.6 L18.5 140.4 L21.9 130.3 L23.6 120.2 L33.7 110.1 L37.1 101.7 L39.0 99.0 L44.0 86.0 L57.5 72.5 L72.5 54.0 L77.5 46.0 L84.0 35.0 L86.0 20.0 Z"/></g>
</g>
<g stroke="#ef3340" stroke-width="2" fill="none"><path d="M204 376 V476.5"/><path d="M541 417 V518.3"/><path d="M793.7 335 V435.8"/></g>
<g fill="#ed1c24"><circle cx="204" cy="375.7" r="4.2"/><circle cx="541" cy="416.8" r="4.2"/><circle cx="793.7" cy="334.9" r="4.2"/></g>
</svg>
<div class="t" style="left:161px;top:484px;">Система координат<br>поперечной проекции<br>Меркатора</div>
<div class="t" style="left:475px;top:520px;">Система координат WGS 84</div>
<div class="t" style="left:742px;top:445px;">Система координат<br>равновеликой проекции<br>Альберса</div>
</body></html>
